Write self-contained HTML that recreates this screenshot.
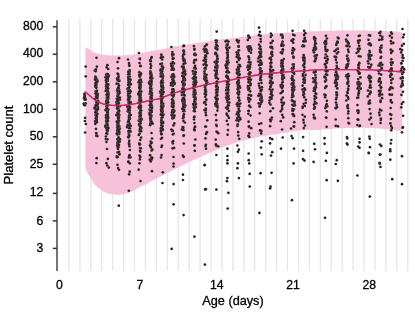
<!DOCTYPE html>
<html><head><meta charset="utf-8"><style>
html,body{margin:0;padding:0;background:#fff;width:415px;height:314px;overflow:hidden}
svg{position:absolute;left:0;top:0;will-change:transform;font-family:"Liberation Sans",sans-serif}
</style></head><body>
<svg width="415" height="314" viewBox="0 0 415 314">
<g stroke="#e6e6e6" stroke-width="1.3"><line x1="68.9" y1="18.8" x2="68.9" y2="271"/><line x1="79.9" y1="18.8" x2="79.9" y2="271"/><line x1="90.8" y1="18.8" x2="90.8" y2="271"/><line x1="101.7" y1="18.8" x2="101.7" y2="271"/><line x1="112.7" y1="18.8" x2="112.7" y2="271"/><line x1="123.6" y1="18.8" x2="123.6" y2="271"/><line x1="134.5" y1="18.8" x2="134.5" y2="271"/><line x1="145.4" y1="18.8" x2="145.4" y2="271"/><line x1="156.4" y1="18.8" x2="156.4" y2="271"/><line x1="167.3" y1="18.8" x2="167.3" y2="271"/><line x1="178.2" y1="18.8" x2="178.2" y2="271"/><line x1="189.2" y1="18.8" x2="189.2" y2="271"/><line x1="200.1" y1="18.8" x2="200.1" y2="271"/><line x1="211" y1="18.8" x2="211" y2="271"/><line x1="221.9" y1="18.8" x2="221.9" y2="271"/><line x1="232.9" y1="18.8" x2="232.9" y2="271"/><line x1="243.8" y1="18.8" x2="243.8" y2="271"/><line x1="254.7" y1="18.8" x2="254.7" y2="271"/><line x1="265.7" y1="18.8" x2="265.7" y2="271"/><line x1="276.6" y1="18.8" x2="276.6" y2="271"/><line x1="287.5" y1="18.8" x2="287.5" y2="271"/><line x1="298.5" y1="18.8" x2="298.5" y2="271"/><line x1="309.4" y1="18.8" x2="309.4" y2="271"/><line x1="320.3" y1="18.8" x2="320.3" y2="271"/><line x1="331.2" y1="18.8" x2="331.2" y2="271"/><line x1="342.2" y1="18.8" x2="342.2" y2="271"/><line x1="353.1" y1="18.8" x2="353.1" y2="271"/><line x1="364" y1="18.8" x2="364" y2="271"/><line x1="375" y1="18.8" x2="375" y2="271"/><line x1="385.9" y1="18.8" x2="385.9" y2="271"/><line x1="396.8" y1="18.8" x2="396.8" y2="271"/><line x1="407.8" y1="18.8" x2="407.8" y2="271"/></g>
<path d="M85.4,46.9 L86.1,47.4 L87,48 L88.1,48.7 L89.3,49.5 L90.5,50.3 L91.6,50.9 L92.6,51.4 L93.5,51.9 L94.4,52.4 L95.3,52.8 L96.3,53.1 L97.4,53.5 L98.6,53.8 L99.8,54.1 L101.1,54.4 L102.5,54.6 L103.8,54.8 L105.1,55 L106.4,55.1 L107.7,55.3 L108.9,55.3 L110.2,55.4 L111.5,55.5 L112.8,55.5 L114.1,55.5 L115.3,55.6 L116.6,55.6 L117.9,55.6 L119.2,55.5 L120.6,55.5 L122.1,55.4 L123.7,55.4 L125.3,55.3 L126.9,55.2 L128.6,55.1 L130.2,54.9 L131.8,54.7 L133.4,54.5 L135,54.2 L136.6,54 L138.2,53.7 L139.8,53.4 L141.4,53.1 L142.9,52.7 L144.5,52.4 L146.1,52 L147.7,51.7 L149.5,51.3 L151.4,51 L153.5,50.7 L155.6,50.3 L157.7,50 L159.9,49.7 L162,49.3 L164,48.9 L165.9,48.5 L167.7,48 L169.7,47.6 L171.8,47.1 L174.3,46.6 L177.1,46.1 L180.2,45.6 L183.5,45.1 L186.9,44.5 L190.3,44 L193.6,43.5 L196.8,43 L199.9,42.5 L203,42 L206.2,41.6 L209.4,41.1 L212.8,40.6 L216.4,40.1 L220.3,39.6 L224.2,39.1 L228.1,38.7 L231.7,38.2 L235,37.8 L237.8,37.4 L240.2,37.1 L242.3,36.7 L244.5,36.4 L246.7,36.1 L249.3,35.8 L252.2,35.5 L255.4,35.2 L258.6,34.9 L262,34.6 L265.3,34.3 L268.6,34 L271.8,33.7 L274.9,33.5 L278,33.3 L281.2,33 L284.4,32.8 L287.8,32.6 L291.3,32.4 L294.9,32.2 L298.6,32 L302.4,31.8 L306.2,31.7 L310,31.5 L313.9,31.3 L317.9,31.2 L321.9,31 L325.9,30.9 L330,30.8 L334,30.7 L338,30.6 L342.1,30.6 L346.1,30.5 L350.1,30.5 L354.2,30.5 L358.2,30.5 L362.3,30.6 L366.4,30.6 L370.5,30.7 L374.6,30.9 L378.5,31 L382.3,31.1 L386.1,31.2 L390,31.4 L393.8,31.5 L397.2,31.6 L400.1,31.7 L402.2,31.8 L402.2,131.2 L400.9,131 L399.2,130.8 L397.1,130.5 L394.9,130.2 L392.6,130 L390.5,129.7 L388.4,129.5 L386.2,129.2 L384,129 L381.9,128.8 L379.8,128.6 L378,128.4 L376.5,128.3 L375.4,128.2 L374.4,128.1 L373.3,128 L371.9,127.9 L370,127.9 L367.4,127.9 L364.3,127.8 L360.8,127.8 L357.3,127.8 L353.8,127.9 L350.6,127.9 L347.6,128 L344.8,128.1 L342,128.2 L339.2,128.3 L336.6,128.4 L334,128.6 L331.6,128.8 L329.4,129 L327.3,129.2 L325.1,129.4 L322.7,129.6 L320,129.8 L316.9,129.9 L313.5,130 L309.9,130.1 L306.3,130.2 L302.7,130.3 L299.3,130.6 L296,131 L292.9,131.5 L289.7,132 L286.6,132.6 L283.6,133.1 L280.6,133.6 L277.7,134 L274.8,134.4 L272,134.7 L269.3,135.1 L266.5,135.4 L263.7,135.9 L260.8,136.5 L257.8,137.1 L254.8,137.8 L252,138.4 L249.3,139.1 L247,139.6 L245.1,140 L243.6,140.4 L242.3,140.7 L241.2,141 L239.9,141.4 L238.4,141.8 L236.7,142.3 L234.9,142.9 L233,143.5 L231.1,144.2 L229.2,144.9 L227.3,145.6 L225.4,146.3 L223.5,147.1 L221.6,147.8 L219.8,148.6 L217.9,149.4 L216,150.2 L214.1,151 L212.2,151.8 L210.2,152.6 L208.3,153.4 L206.6,154.2 L205,154.9 L203.7,155.5 L202.5,156 L201.5,156.5 L200.5,156.9 L199.4,157.4 L198.2,158 L196.8,158.7 L195.2,159.4 L193.6,160.1 L191.9,160.9 L190.3,161.7 L188.6,162.5 L186.9,163.3 L185.3,164.1 L183.6,164.9 L181.9,165.7 L180.2,166.5 L178.4,167.4 L176.6,168.3 L174.8,169.2 L172.9,170.1 L171,171 L169.2,172 L167.3,172.9 L165.4,173.9 L163.4,174.9 L161.3,175.9 L159.4,176.9 L157.6,177.9 L156,178.7 L154.7,179.4 L153.6,180 L152.6,180.6 L151.7,181.1 L150.9,181.6 L150,182.1 L149.1,182.6 L148.3,183 L147.4,183.4 L146.6,183.8 L145.8,184.2 L145,184.6 L144.2,185 L143.4,185.4 L142.6,185.8 L141.7,186.1 L140.9,186.5 L140,187 L139.1,187.5 L138.1,188.1 L137.1,188.6 L136,189.2 L135,189.8 L134,190.3 L133,190.8 L132.1,191.3 L131.1,191.7 L130.1,192.1 L129.2,192.5 L128.2,192.9 L127.2,193.2 L126.3,193.5 L125.3,193.7 L124.3,193.9 L123.4,194.1 L122.4,194.3 L121.5,194.5 L120.6,194.6 L119.7,194.7 L118.8,194.8 L117.7,194.8 L116.6,194.8 L115.3,194.7 L113.8,194.5 L112.2,194.3 L110.7,194.1 L109.2,193.8 L107.8,193.4 L106.6,193 L105.4,192.5 L104.3,191.9 L103.2,191.3 L102.2,190.7 L101.2,190 L100.2,189.3 L99.2,188.6 L98.3,187.8 L97.4,187 L96.5,186.2 L95.7,185.4 L95,184.7 L94.4,183.9 L93.8,183.2 L93.2,182.5 L92.7,181.7 L92.1,180.8 L91.5,179.8 L90.8,178.7 L90.2,177.6 L89.6,176.5 L89,175.4 L88.5,174.5 L88,173.7 L87.6,173 L87.2,172.4 L86.9,171.8 L86.6,171.2 L86.3,170.5 L86.1,169.7 L85.9,168.9 L85.7,168 L85.6,167.2 L85.5,166.5 L85.4,166 Z" fill="#f7c2d9"/>
<path id="med" d="M84.8,91.4 L85.3,91.9 L86,92.5 L86.8,93.2 L87.7,94 L88.7,94.8 L89.6,95.6 L90.5,96.4 L91.4,97.1 L92.3,97.9 L93.3,98.7 L94.3,99.5 L95.4,100.2 L96.6,100.9 L97.8,101.6 L99.1,102.2 L100.5,102.8 L101.8,103.3 L103.1,103.8 L104.4,104.2 L105.7,104.5 L106.9,104.7 L108.2,104.9 L109.5,105 L110.8,105.2 L112.1,105.3 L113.4,105.4 L114.7,105.5 L116,105.6 L117.3,105.6 L118.6,105.6 L119.9,105.6 L121.2,105.5 L122.5,105.4 L123.7,105.3 L125,105.1 L126.3,105 L127.6,104.9 L128.9,104.7 L130.2,104.5 L131.4,104.3 L132.7,104.1 L134,103.9 L135.3,103.7 L136.6,103.4 L137.8,103.1 L139.1,102.9 L140.4,102.6 L141.7,102.3 L142.9,102 L144.2,101.8 L145.4,101.5 L146.6,101.2 L147.9,100.9 L149.4,100.6 L151,100.3 L152.6,100 L154.3,99.7 L156.1,99.3 L158,98.9 L160,98.3 L162.1,97.6 L164.3,96.8 L166.6,95.8 L169,94.9 L171.6,93.9 L174.3,93 L177.2,92.1 L180.4,91.2 L183.6,90.3 L187,89.4 L190.3,88.5 L193.6,87.7 L196.8,86.9 L199.9,86.2 L203,85.4 L206.2,84.7 L209.4,84 L212.8,83.3 L216.4,82.6 L220.1,81.9 L223.9,81.1 L227.7,80.4 L231.4,79.8 L235,79.1 L238.3,78.5 L241.4,77.8 L244.4,77.2 L247.5,76.6 L250.7,76.1 L254.1,75.5 L257.8,75 L261.8,74.4 L265.8,73.9 L270,73.5 L274.1,73 L278.2,72.6 L282.3,72.2 L286.5,71.9 L290.6,71.6 L294.7,71.4 L298.7,71.1 L302.3,70.9 L305.6,70.7 L308.5,70.5 L311.3,70.2 L314,70.1 L316.9,69.9 L320,69.8 L323.4,69.7 L326.9,69.7 L330.6,69.7 L334.3,69.7 L338,69.7 L341.7,69.7 L345.3,69.7 L348.9,69.7 L352.6,69.6 L356.2,69.6 L359.8,69.6 L363.4,69.7 L367.1,69.8 L370.8,69.9 L374.5,70.1 L378.1,70.2 L381.6,70.4 L385,70.6 L388.3,70.8 L391.8,71.1 L395.1,71.3 L398,71.5 L400.6,71.8 L402.4,71.9" fill="none" stroke="#d6246f" stroke-width="1.3"/>
<g fill="#221a15" stroke="#fff" stroke-opacity="0.2" stroke-width="0.5"><circle cx="94.7" cy="70.7" r="1.35"/><circle cx="95.6" cy="71.1" r="1.35"/><circle cx="95.8" cy="71.1" r="1.35"/><circle cx="96" cy="112.5" r="1.35"/><circle cx="96.8" cy="80.2" r="1.35"/><circle cx="96.6" cy="113.2" r="1.35"/><circle cx="96.2" cy="121.2" r="1.35"/><circle cx="96" cy="120.4" r="1.35"/><circle cx="95.7" cy="83.2" r="1.35"/><circle cx="95.4" cy="76.7" r="1.35"/><circle cx="96" cy="84.7" r="1.35"/><circle cx="96.2" cy="87.1" r="1.35"/><circle cx="97.1" cy="96.3" r="1.35"/><circle cx="96.4" cy="114.8" r="1.35"/><circle cx="95.2" cy="99" r="1.35"/><circle cx="96.1" cy="106.5" r="1.35"/><circle cx="95.7" cy="121.9" r="1.35"/><circle cx="96.4" cy="121.8" r="1.35"/><circle cx="96.9" cy="90.5" r="1.35"/><circle cx="95.3" cy="86.6" r="1.35"/><circle cx="96.2" cy="111.2" r="1.35"/><circle cx="96.5" cy="94.4" r="1.35"/><circle cx="96.7" cy="120.1" r="1.35"/><circle cx="95.6" cy="115" r="1.35"/><circle cx="96.8" cy="117.9" r="1.35"/><circle cx="96.3" cy="97.6" r="1.35"/><circle cx="97" cy="79.4" r="1.35"/><circle cx="96.2" cy="105" r="1.35"/><circle cx="96.4" cy="80" r="1.35"/><circle cx="95.7" cy="91.3" r="1.35"/><circle cx="97.5" cy="81.4" r="1.35"/><circle cx="96" cy="87.3" r="1.35"/><circle cx="96.5" cy="112.7" r="1.35"/><circle cx="96.4" cy="84.2" r="1.35"/><circle cx="95.5" cy="84.8" r="1.35"/><circle cx="96" cy="109.7" r="1.35"/><circle cx="97" cy="81.4" r="1.35"/><circle cx="97" cy="95.4" r="1.35"/><circle cx="96.4" cy="120.7" r="1.35"/><circle cx="96.8" cy="113" r="1.35"/><circle cx="95.7" cy="85.7" r="1.35"/><circle cx="97.7" cy="94.1" r="1.35"/><circle cx="96.9" cy="80.6" r="1.35"/><circle cx="95.4" cy="121.5" r="1.35"/><circle cx="96.4" cy="111.5" r="1.35"/><circle cx="96.8" cy="91.1" r="1.35"/><circle cx="96.2" cy="80.1" r="1.35"/><circle cx="96.5" cy="102.8" r="1.35"/><circle cx="96.3" cy="93.1" r="1.35"/><circle cx="97.3" cy="96.8" r="1.35"/><circle cx="97.1" cy="102.4" r="1.35"/><circle cx="96" cy="115.9" r="1.35"/><circle cx="96.4" cy="117.8" r="1.35"/><circle cx="96.7" cy="113.6" r="1.35"/><circle cx="96.3" cy="110" r="1.35"/><circle cx="96.7" cy="119.3" r="1.35"/><circle cx="96.9" cy="116.6" r="1.35"/><circle cx="98" cy="103.8" r="1.35"/><circle cx="95.9" cy="77.8" r="1.35"/><circle cx="96.4" cy="120.3" r="1.35"/><circle cx="96.3" cy="87.8" r="1.35"/><circle cx="97.4" cy="113.9" r="1.35"/><circle cx="95.7" cy="84.1" r="1.35"/><circle cx="95.9" cy="109.1" r="1.35"/><circle cx="96.7" cy="101.7" r="1.35"/><circle cx="96.5" cy="115.2" r="1.35"/><circle cx="95.8" cy="118.2" r="1.35"/><circle cx="95.9" cy="85.4" r="1.35"/><circle cx="96.8" cy="96.5" r="1.35"/><circle cx="96.3" cy="78.8" r="1.35"/><circle cx="96.6" cy="102.3" r="1.35"/><circle cx="96.9" cy="82.1" r="1.35"/><circle cx="95.2" cy="121.1" r="1.35"/><circle cx="97.5" cy="106.2" r="1.35"/><circle cx="95.9" cy="82.5" r="1.35"/><circle cx="95.3" cy="77.6" r="1.35"/><circle cx="97.9" cy="108.2" r="1.35"/><circle cx="96.4" cy="120.3" r="1.35"/><circle cx="97.3" cy="98.2" r="1.35"/><circle cx="96.4" cy="109.6" r="1.35"/><circle cx="95" cy="79.5" r="1.35"/><circle cx="98.1" cy="101.1" r="1.35"/><circle cx="96.1" cy="109.9" r="1.35"/><circle cx="94.7" cy="108.4" r="1.35"/><circle cx="96.7" cy="92.2" r="1.35"/><circle cx="94.7" cy="107.5" r="1.35"/><circle cx="97.5" cy="95.2" r="1.35"/><circle cx="95.4" cy="112.4" r="1.35"/><circle cx="96.9" cy="104.7" r="1.35"/><circle cx="95.5" cy="93.6" r="1.35"/><circle cx="95.4" cy="79.7" r="1.35"/><circle cx="95.7" cy="105.4" r="1.35"/><circle cx="97.8" cy="109.5" r="1.35"/><circle cx="96.2" cy="93.9" r="1.35"/><circle cx="96.2" cy="96.3" r="1.35"/><circle cx="95.3" cy="123.9" r="1.35"/><circle cx="96.3" cy="135.8" r="1.35"/><circle cx="96.1" cy="133.1" r="1.35"/><circle cx="96.4" cy="133.4" r="1.35"/><circle cx="97.4" cy="136.1" r="1.35"/><circle cx="96.8" cy="122.3" r="1.35"/><circle cx="96" cy="128.9" r="1.35"/><circle cx="96.4" cy="163.1" r="1.35"/><circle cx="96.7" cy="158.2" r="1.35"/><circle cx="106.7" cy="67.4" r="1.35"/><circle cx="108.2" cy="69" r="1.35"/><circle cx="108.5" cy="94.9" r="1.35"/><circle cx="106.4" cy="106.2" r="1.35"/><circle cx="107" cy="101.3" r="1.35"/><circle cx="107.6" cy="120.7" r="1.35"/><circle cx="107.9" cy="127.2" r="1.35"/><circle cx="106.2" cy="88.8" r="1.35"/><circle cx="107.6" cy="88.7" r="1.35"/><circle cx="107.9" cy="85.2" r="1.35"/><circle cx="106.3" cy="101.2" r="1.35"/><circle cx="107.7" cy="91" r="1.35"/><circle cx="108.3" cy="98.8" r="1.35"/><circle cx="105.4" cy="77.3" r="1.35"/><circle cx="108.7" cy="75.4" r="1.35"/><circle cx="107.5" cy="113.4" r="1.35"/><circle cx="106.6" cy="118.1" r="1.35"/><circle cx="106.9" cy="74.1" r="1.35"/><circle cx="107.7" cy="74.4" r="1.35"/><circle cx="107.8" cy="120.3" r="1.35"/><circle cx="107.2" cy="75.7" r="1.35"/><circle cx="107.6" cy="108.9" r="1.35"/><circle cx="106.2" cy="110.3" r="1.35"/><circle cx="107.5" cy="119" r="1.35"/><circle cx="108.3" cy="84.4" r="1.35"/><circle cx="106.9" cy="100.1" r="1.35"/><circle cx="107.2" cy="99.9" r="1.35"/><circle cx="107.3" cy="113.7" r="1.35"/><circle cx="107.4" cy="92.7" r="1.35"/><circle cx="107.7" cy="112.7" r="1.35"/><circle cx="106.2" cy="116.1" r="1.35"/><circle cx="107.1" cy="95.4" r="1.35"/><circle cx="107.6" cy="78" r="1.35"/><circle cx="105.6" cy="126.2" r="1.35"/><circle cx="107.1" cy="98.9" r="1.35"/><circle cx="106.8" cy="108.7" r="1.35"/><circle cx="107.8" cy="105.4" r="1.35"/><circle cx="106.8" cy="123.1" r="1.35"/><circle cx="107.7" cy="99.4" r="1.35"/><circle cx="105.5" cy="110.1" r="1.35"/><circle cx="107.5" cy="119.6" r="1.35"/><circle cx="108.3" cy="109.6" r="1.35"/><circle cx="107.1" cy="124.3" r="1.35"/><circle cx="106.7" cy="128.9" r="1.35"/><circle cx="108.1" cy="118.1" r="1.35"/><circle cx="107.1" cy="91.3" r="1.35"/><circle cx="108.4" cy="92.9" r="1.35"/><circle cx="106.4" cy="77.7" r="1.35"/><circle cx="106.3" cy="116.8" r="1.35"/><circle cx="107.5" cy="100.8" r="1.35"/><circle cx="108.5" cy="76.7" r="1.35"/><circle cx="107.4" cy="118.6" r="1.35"/><circle cx="107.5" cy="117.9" r="1.35"/><circle cx="107.8" cy="81" r="1.35"/><circle cx="107.7" cy="114.2" r="1.35"/><circle cx="107.9" cy="120.9" r="1.35"/><circle cx="106.5" cy="101.1" r="1.35"/><circle cx="105.5" cy="127.1" r="1.35"/><circle cx="107.6" cy="103" r="1.35"/><circle cx="107.5" cy="89.5" r="1.35"/><circle cx="107" cy="102.8" r="1.35"/><circle cx="106.1" cy="121.1" r="1.35"/><circle cx="106.6" cy="94.7" r="1.35"/><circle cx="106.9" cy="121.2" r="1.35"/><circle cx="107.6" cy="121.5" r="1.35"/><circle cx="106.9" cy="128.2" r="1.35"/><circle cx="106.2" cy="84.5" r="1.35"/><circle cx="107" cy="103.5" r="1.35"/><circle cx="106.2" cy="74.6" r="1.35"/><circle cx="107.2" cy="128.3" r="1.35"/><circle cx="106.4" cy="118.7" r="1.35"/><circle cx="107.1" cy="105.1" r="1.35"/><circle cx="106" cy="76.8" r="1.35"/><circle cx="107.2" cy="103.7" r="1.35"/><circle cx="105.6" cy="125.6" r="1.35"/><circle cx="108.2" cy="88.3" r="1.35"/><circle cx="106.8" cy="97.7" r="1.35"/><circle cx="107.3" cy="119.5" r="1.35"/><circle cx="107.9" cy="91.1" r="1.35"/><circle cx="106.7" cy="83.9" r="1.35"/><circle cx="105.9" cy="80.4" r="1.35"/><circle cx="106" cy="117.4" r="1.35"/><circle cx="107.7" cy="86" r="1.35"/><circle cx="107.3" cy="112.2" r="1.35"/><circle cx="106.9" cy="108.3" r="1.35"/><circle cx="107.8" cy="79" r="1.35"/><circle cx="107.1" cy="102.1" r="1.35"/><circle cx="106.8" cy="87.3" r="1.35"/><circle cx="107.5" cy="97.9" r="1.35"/><circle cx="108.1" cy="94.4" r="1.35"/><circle cx="106.4" cy="82.1" r="1.35"/><circle cx="107.7" cy="84.6" r="1.35"/><circle cx="106.5" cy="103.2" r="1.35"/><circle cx="106.4" cy="121.5" r="1.35"/><circle cx="106.1" cy="86.3" r="1.35"/><circle cx="106.2" cy="115.2" r="1.35"/><circle cx="107.8" cy="91" r="1.35"/><circle cx="105.7" cy="91" r="1.35"/><circle cx="107.7" cy="129.9" r="1.35"/><circle cx="106.9" cy="123.6" r="1.35"/><circle cx="107.6" cy="114.4" r="1.35"/><circle cx="107.6" cy="87.8" r="1.35"/><circle cx="108.3" cy="97" r="1.35"/><circle cx="108" cy="118" r="1.35"/><circle cx="107.7" cy="112.1" r="1.35"/><circle cx="107.7" cy="74" r="1.35"/><circle cx="107.5" cy="124.9" r="1.35"/><circle cx="108.3" cy="128.2" r="1.35"/><circle cx="107.9" cy="116.2" r="1.35"/><circle cx="107.8" cy="101.7" r="1.35"/><circle cx="107" cy="77" r="1.35"/><circle cx="106.7" cy="79.1" r="1.35"/><circle cx="108.1" cy="102.3" r="1.35"/><circle cx="107.4" cy="105.4" r="1.35"/><circle cx="107.5" cy="84.6" r="1.35"/><circle cx="107.6" cy="120.9" r="1.35"/><circle cx="107.5" cy="131.2" r="1.35"/><circle cx="107" cy="149" r="1.35"/><circle cx="105.9" cy="136.5" r="1.35"/><circle cx="107.5" cy="139.3" r="1.35"/><circle cx="106.4" cy="142" r="1.35"/><circle cx="107.1" cy="130.3" r="1.35"/><circle cx="106.7" cy="133.6" r="1.35"/><circle cx="105.8" cy="139.1" r="1.35"/><circle cx="107.1" cy="133.9" r="1.35"/><circle cx="106.4" cy="133.3" r="1.35"/><circle cx="108.8" cy="167.6" r="1.35"/><circle cx="107.3" cy="165.5" r="1.35"/><circle cx="107.9" cy="158.9" r="1.35"/><circle cx="106.4" cy="163.2" r="1.35"/><circle cx="118.3" cy="74.6" r="1.35"/><circle cx="117.6" cy="73.7" r="1.35"/><circle cx="118.4" cy="140.4" r="1.35"/><circle cx="117.4" cy="139.2" r="1.35"/><circle cx="117.7" cy="130.9" r="1.35"/><circle cx="116.9" cy="104.6" r="1.35"/><circle cx="118.1" cy="99.9" r="1.35"/><circle cx="117.8" cy="109.2" r="1.35"/><circle cx="118.8" cy="121.6" r="1.35"/><circle cx="118.2" cy="120.6" r="1.35"/><circle cx="118.3" cy="123.6" r="1.35"/><circle cx="119.9" cy="99.7" r="1.35"/><circle cx="117.6" cy="113.9" r="1.35"/><circle cx="117.3" cy="103.4" r="1.35"/><circle cx="119.2" cy="126.2" r="1.35"/><circle cx="118.1" cy="130.6" r="1.35"/><circle cx="118.3" cy="119.9" r="1.35"/><circle cx="118.1" cy="128.9" r="1.35"/><circle cx="118.1" cy="78.7" r="1.35"/><circle cx="118.9" cy="89.3" r="1.35"/><circle cx="117.9" cy="93.3" r="1.35"/><circle cx="118.4" cy="141.1" r="1.35"/><circle cx="117.3" cy="145.6" r="1.35"/><circle cx="117.8" cy="116.5" r="1.35"/><circle cx="119.2" cy="134.1" r="1.35"/><circle cx="118.1" cy="80.6" r="1.35"/><circle cx="117.1" cy="78.3" r="1.35"/><circle cx="117.4" cy="142.9" r="1.35"/><circle cx="118.6" cy="87.3" r="1.35"/><circle cx="118.8" cy="111.2" r="1.35"/><circle cx="117.9" cy="144" r="1.35"/><circle cx="117.9" cy="105.7" r="1.35"/><circle cx="117.1" cy="101.7" r="1.35"/><circle cx="117.9" cy="95.9" r="1.35"/><circle cx="117.6" cy="95.7" r="1.35"/><circle cx="117.3" cy="127.3" r="1.35"/><circle cx="118.1" cy="92.9" r="1.35"/><circle cx="118.2" cy="78.1" r="1.35"/><circle cx="118.8" cy="103.5" r="1.35"/><circle cx="119.2" cy="140.5" r="1.35"/><circle cx="118.1" cy="147.2" r="1.35"/><circle cx="117.9" cy="143.9" r="1.35"/><circle cx="119.6" cy="106.4" r="1.35"/><circle cx="118.8" cy="109.9" r="1.35"/><circle cx="118.7" cy="113.2" r="1.35"/><circle cx="118" cy="143.4" r="1.35"/><circle cx="118" cy="146.5" r="1.35"/><circle cx="117.3" cy="134.6" r="1.35"/><circle cx="117.8" cy="120.6" r="1.35"/><circle cx="117.9" cy="108.3" r="1.35"/><circle cx="118.2" cy="113.6" r="1.35"/><circle cx="118.3" cy="84.1" r="1.35"/><circle cx="117.1" cy="108.3" r="1.35"/><circle cx="118.5" cy="94.1" r="1.35"/><circle cx="117.4" cy="131.8" r="1.35"/><circle cx="117.7" cy="113.7" r="1.35"/><circle cx="119.9" cy="128.6" r="1.35"/><circle cx="118.1" cy="92.4" r="1.35"/><circle cx="119.3" cy="132.3" r="1.35"/><circle cx="119.2" cy="120.6" r="1.35"/><circle cx="117.7" cy="125" r="1.35"/><circle cx="118.6" cy="116.2" r="1.35"/><circle cx="117.2" cy="130" r="1.35"/><circle cx="117.5" cy="88.9" r="1.35"/><circle cx="118.1" cy="141.8" r="1.35"/><circle cx="119.9" cy="139.2" r="1.35"/><circle cx="118.4" cy="94.8" r="1.35"/><circle cx="118.2" cy="106" r="1.35"/><circle cx="117.9" cy="114.5" r="1.35"/><circle cx="117.9" cy="80.3" r="1.35"/><circle cx="119.1" cy="115.2" r="1.35"/><circle cx="118.7" cy="121.1" r="1.35"/><circle cx="117.5" cy="90.4" r="1.35"/><circle cx="118.7" cy="100.1" r="1.35"/><circle cx="118.1" cy="80.4" r="1.35"/><circle cx="116.7" cy="83.7" r="1.35"/><circle cx="118.5" cy="131.1" r="1.35"/><circle cx="117.1" cy="90.6" r="1.35"/><circle cx="117.6" cy="134.1" r="1.35"/><circle cx="118.4" cy="101.9" r="1.35"/><circle cx="116.8" cy="98.8" r="1.35"/><circle cx="116.3" cy="115" r="1.35"/><circle cx="118.1" cy="106.2" r="1.35"/><circle cx="116.4" cy="102" r="1.35"/><circle cx="119.4" cy="80.7" r="1.35"/><circle cx="119" cy="81.1" r="1.35"/><circle cx="117.3" cy="125" r="1.35"/><circle cx="117.8" cy="96.8" r="1.35"/><circle cx="118.2" cy="90.6" r="1.35"/><circle cx="117.8" cy="123.3" r="1.35"/><circle cx="118.7" cy="127.9" r="1.35"/><circle cx="118.4" cy="125.7" r="1.35"/><circle cx="118" cy="101.1" r="1.35"/><circle cx="118.5" cy="128" r="1.35"/><circle cx="117.9" cy="126.8" r="1.35"/><circle cx="118.4" cy="116.6" r="1.35"/><circle cx="119.7" cy="141.7" r="1.35"/><circle cx="117.2" cy="107" r="1.35"/><circle cx="118.3" cy="98.2" r="1.35"/><circle cx="117.5" cy="104.2" r="1.35"/><circle cx="119.6" cy="93.1" r="1.35"/><circle cx="117.5" cy="101.4" r="1.35"/><circle cx="117.6" cy="103.9" r="1.35"/><circle cx="118.6" cy="103.3" r="1.35"/><circle cx="118.4" cy="133.2" r="1.35"/><circle cx="119" cy="114.5" r="1.35"/><circle cx="118.6" cy="87.9" r="1.35"/><circle cx="117.3" cy="130.4" r="1.35"/><circle cx="118.6" cy="76.6" r="1.35"/><circle cx="117.7" cy="112.6" r="1.35"/><circle cx="117.2" cy="145.5" r="1.35"/><circle cx="117.8" cy="122.5" r="1.35"/><circle cx="118.2" cy="114.9" r="1.35"/><circle cx="117.9" cy="132.5" r="1.35"/><circle cx="118.4" cy="128.8" r="1.35"/><circle cx="118.3" cy="140.6" r="1.35"/><circle cx="119" cy="85.5" r="1.35"/><circle cx="118.7" cy="129.4" r="1.35"/><circle cx="117.8" cy="91.1" r="1.35"/><circle cx="117.7" cy="130.9" r="1.35"/><circle cx="116.9" cy="103.8" r="1.35"/><circle cx="117.9" cy="99.7" r="1.35"/><circle cx="119.2" cy="111" r="1.35"/><circle cx="117.9" cy="114.2" r="1.35"/><circle cx="117.9" cy="141.8" r="1.35"/><circle cx="117" cy="105" r="1.35"/><circle cx="118.6" cy="137.3" r="1.35"/><circle cx="117.1" cy="133.8" r="1.35"/><circle cx="118.9" cy="144.9" r="1.35"/><circle cx="116.8" cy="121.7" r="1.35"/><circle cx="116.9" cy="133.6" r="1.35"/><circle cx="117.9" cy="105.8" r="1.35"/><circle cx="117.7" cy="129.1" r="1.35"/><circle cx="118.3" cy="147.3" r="1.35"/><circle cx="117.8" cy="89.9" r="1.35"/><circle cx="118.4" cy="106" r="1.35"/><circle cx="117.6" cy="79.3" r="1.35"/><circle cx="119.9" cy="97.5" r="1.35"/><circle cx="118.9" cy="131.6" r="1.35"/><circle cx="118.8" cy="88.1" r="1.35"/><circle cx="118.9" cy="117.6" r="1.35"/><circle cx="118.4" cy="141.4" r="1.35"/><circle cx="118.5" cy="88.5" r="1.35"/><circle cx="118.2" cy="90.9" r="1.35"/><circle cx="118.2" cy="118.4" r="1.35"/><circle cx="119.3" cy="91.3" r="1.35"/><circle cx="118.4" cy="87.6" r="1.35"/><circle cx="118.7" cy="130.3" r="1.35"/><circle cx="116.8" cy="156.2" r="1.35"/><circle cx="117.7" cy="152.4" r="1.35"/><circle cx="119.4" cy="153.8" r="1.35"/><circle cx="117" cy="157.3" r="1.35"/><circle cx="118.9" cy="151.8" r="1.35"/><circle cx="117.9" cy="148.8" r="1.35"/><circle cx="119.4" cy="154.5" r="1.35"/><circle cx="117.7" cy="157" r="1.35"/><circle cx="117.5" cy="164.8" r="1.35"/><circle cx="118.1" cy="168.1" r="1.35"/><circle cx="119" cy="169.8" r="1.35"/><circle cx="129.1" cy="65.1" r="1.35"/><circle cx="129.4" cy="65.8" r="1.35"/><circle cx="129.6" cy="70.1" r="1.35"/><circle cx="127.5" cy="88.9" r="1.35"/><circle cx="127.3" cy="106.8" r="1.35"/><circle cx="129.8" cy="71.1" r="1.35"/><circle cx="130.1" cy="126" r="1.35"/><circle cx="129.8" cy="76.5" r="1.35"/><circle cx="127.9" cy="89.1" r="1.35"/><circle cx="129" cy="103.2" r="1.35"/><circle cx="128.7" cy="102.4" r="1.35"/><circle cx="130" cy="128.4" r="1.35"/><circle cx="128.8" cy="91.3" r="1.35"/><circle cx="129.2" cy="132.4" r="1.35"/><circle cx="128.3" cy="77.1" r="1.35"/><circle cx="129.3" cy="107.4" r="1.35"/><circle cx="128.6" cy="106.2" r="1.35"/><circle cx="129.8" cy="91.9" r="1.35"/><circle cx="130.2" cy="91.8" r="1.35"/><circle cx="129.6" cy="102.3" r="1.35"/><circle cx="129.3" cy="118.9" r="1.35"/><circle cx="128.3" cy="78.1" r="1.35"/><circle cx="129.9" cy="97.4" r="1.35"/><circle cx="127.2" cy="126.6" r="1.35"/><circle cx="129.5" cy="114.8" r="1.35"/><circle cx="129.8" cy="118.6" r="1.35"/><circle cx="129.1" cy="86.9" r="1.35"/><circle cx="128.3" cy="71.7" r="1.35"/><circle cx="128.7" cy="137.4" r="1.35"/><circle cx="129.2" cy="112.3" r="1.35"/><circle cx="128.6" cy="90.5" r="1.35"/><circle cx="128.4" cy="91" r="1.35"/><circle cx="129.7" cy="93.6" r="1.35"/><circle cx="128.2" cy="88.2" r="1.35"/><circle cx="129.7" cy="84.4" r="1.35"/><circle cx="129" cy="134.3" r="1.35"/><circle cx="128.4" cy="108.7" r="1.35"/><circle cx="128.9" cy="126.4" r="1.35"/><circle cx="128.4" cy="77.2" r="1.35"/><circle cx="129.3" cy="116.4" r="1.35"/><circle cx="129.3" cy="118.5" r="1.35"/><circle cx="129.4" cy="127.1" r="1.35"/><circle cx="129.7" cy="110.7" r="1.35"/><circle cx="129.5" cy="81.5" r="1.35"/><circle cx="129.3" cy="79.3" r="1.35"/><circle cx="128.8" cy="132.7" r="1.35"/><circle cx="129.2" cy="99.6" r="1.35"/><circle cx="128" cy="122.4" r="1.35"/><circle cx="129" cy="126" r="1.35"/><circle cx="128.5" cy="98.6" r="1.35"/><circle cx="129.5" cy="72" r="1.35"/><circle cx="128.1" cy="136.8" r="1.35"/><circle cx="129.7" cy="123.9" r="1.35"/><circle cx="128.5" cy="72.2" r="1.35"/><circle cx="128.2" cy="93.2" r="1.35"/><circle cx="128.4" cy="78.1" r="1.35"/><circle cx="130" cy="96.3" r="1.35"/><circle cx="127.7" cy="126.3" r="1.35"/><circle cx="129" cy="112" r="1.35"/><circle cx="129.7" cy="131.5" r="1.35"/><circle cx="130.1" cy="107.7" r="1.35"/><circle cx="128.5" cy="80.5" r="1.35"/><circle cx="129.8" cy="118.8" r="1.35"/><circle cx="129.9" cy="118.9" r="1.35"/><circle cx="129" cy="127" r="1.35"/><circle cx="129.6" cy="113" r="1.35"/><circle cx="130.8" cy="84.3" r="1.35"/><circle cx="129.5" cy="109.6" r="1.35"/><circle cx="129.3" cy="117.7" r="1.35"/><circle cx="128.2" cy="95.2" r="1.35"/><circle cx="130.6" cy="102" r="1.35"/><circle cx="130.5" cy="80.1" r="1.35"/><circle cx="130.5" cy="131.6" r="1.35"/><circle cx="128.1" cy="108.5" r="1.35"/><circle cx="128.8" cy="88.7" r="1.35"/><circle cx="130.8" cy="125.8" r="1.35"/><circle cx="127.8" cy="111.3" r="1.35"/><circle cx="130" cy="90.3" r="1.35"/><circle cx="130" cy="131.1" r="1.35"/><circle cx="129.1" cy="126.7" r="1.35"/><circle cx="130" cy="83.4" r="1.35"/><circle cx="128.8" cy="73.1" r="1.35"/><circle cx="129" cy="83.1" r="1.35"/><circle cx="130.8" cy="115.1" r="1.35"/><circle cx="128.9" cy="91.6" r="1.35"/><circle cx="128.5" cy="96.6" r="1.35"/><circle cx="128" cy="110.7" r="1.35"/><circle cx="129.1" cy="84.4" r="1.35"/><circle cx="128.9" cy="102.4" r="1.35"/><circle cx="129.5" cy="109.2" r="1.35"/><circle cx="129.6" cy="82.6" r="1.35"/><circle cx="128.5" cy="109.1" r="1.35"/><circle cx="129" cy="93.3" r="1.35"/><circle cx="128.9" cy="116" r="1.35"/><circle cx="128.9" cy="80.7" r="1.35"/><circle cx="130" cy="102.5" r="1.35"/><circle cx="128.8" cy="98.6" r="1.35"/><circle cx="128.2" cy="121.8" r="1.35"/><circle cx="128.2" cy="121.4" r="1.35"/><circle cx="127.2" cy="127.2" r="1.35"/><circle cx="129.3" cy="128.3" r="1.35"/><circle cx="128.4" cy="108.9" r="1.35"/><circle cx="129.5" cy="131.7" r="1.35"/><circle cx="128.1" cy="100" r="1.35"/><circle cx="128.9" cy="131.6" r="1.35"/><circle cx="128.9" cy="119.6" r="1.35"/><circle cx="129.3" cy="131.3" r="1.35"/><circle cx="128.9" cy="121.4" r="1.35"/><circle cx="128" cy="91.4" r="1.35"/><circle cx="128.8" cy="79.3" r="1.35"/><circle cx="128.9" cy="100.9" r="1.35"/><circle cx="128.3" cy="74.5" r="1.35"/><circle cx="129" cy="117.6" r="1.35"/><circle cx="128.5" cy="91.5" r="1.35"/><circle cx="129" cy="97.5" r="1.35"/><circle cx="129.1" cy="132.1" r="1.35"/><circle cx="129.3" cy="135.8" r="1.35"/><circle cx="128.3" cy="99.2" r="1.35"/><circle cx="127.7" cy="125" r="1.35"/><circle cx="129.3" cy="109" r="1.35"/><circle cx="130.3" cy="131.5" r="1.35"/><circle cx="130.1" cy="79.3" r="1.35"/><circle cx="129.8" cy="107" r="1.35"/><circle cx="129.1" cy="87.3" r="1.35"/><circle cx="129" cy="91.1" r="1.35"/><circle cx="128.9" cy="131" r="1.35"/><circle cx="129.3" cy="125.6" r="1.35"/><circle cx="128.5" cy="110.2" r="1.35"/><circle cx="129.5" cy="74.1" r="1.35"/><circle cx="130.6" cy="91.6" r="1.35"/><circle cx="129.4" cy="104.4" r="1.35"/><circle cx="130.8" cy="102.7" r="1.35"/><circle cx="128.2" cy="84.8" r="1.35"/><circle cx="128.6" cy="131.1" r="1.35"/><circle cx="130.7" cy="84.1" r="1.35"/><circle cx="129.4" cy="102.7" r="1.35"/><circle cx="128.4" cy="82.5" r="1.35"/><circle cx="129.5" cy="155.1" r="1.35"/><circle cx="129" cy="143.2" r="1.35"/><circle cx="129.2" cy="140.9" r="1.35"/><circle cx="128.9" cy="157.6" r="1.35"/><circle cx="128.4" cy="161.5" r="1.35"/><circle cx="130.5" cy="157.3" r="1.35"/><circle cx="129.8" cy="163.3" r="1.35"/><circle cx="129.9" cy="150" r="1.35"/><circle cx="129.5" cy="146.3" r="1.35"/><circle cx="129.3" cy="157.2" r="1.35"/><circle cx="129.2" cy="144.4" r="1.35"/><circle cx="129.5" cy="155.9" r="1.35"/><circle cx="129.2" cy="155.9" r="1.35"/><circle cx="128.3" cy="161.9" r="1.35"/><circle cx="129.1" cy="174.3" r="1.35"/><circle cx="129.7" cy="171.7" r="1.35"/><circle cx="128.8" cy="190.8" r="1.35"/><circle cx="139.7" cy="58.8" r="1.35"/><circle cx="140.9" cy="66" r="1.35"/><circle cx="140.3" cy="65.8" r="1.35"/><circle cx="140.1" cy="66" r="1.35"/><circle cx="139.7" cy="86.5" r="1.35"/><circle cx="139.8" cy="82.7" r="1.35"/><circle cx="140.9" cy="127.5" r="1.35"/><circle cx="140.2" cy="100.1" r="1.35"/><circle cx="140" cy="118.3" r="1.35"/><circle cx="138.7" cy="102.5" r="1.35"/><circle cx="141.1" cy="82.3" r="1.35"/><circle cx="139" cy="93.7" r="1.35"/><circle cx="139.6" cy="112.5" r="1.35"/><circle cx="140.2" cy="102.9" r="1.35"/><circle cx="139.1" cy="124.3" r="1.35"/><circle cx="139.6" cy="130.9" r="1.35"/><circle cx="139.1" cy="82" r="1.35"/><circle cx="140.1" cy="109.3" r="1.35"/><circle cx="139.5" cy="85.8" r="1.35"/><circle cx="138.8" cy="120.6" r="1.35"/><circle cx="140.4" cy="120.8" r="1.35"/><circle cx="140.1" cy="84.9" r="1.35"/><circle cx="140.8" cy="107.5" r="1.35"/><circle cx="139.8" cy="108.6" r="1.35"/><circle cx="140" cy="116" r="1.35"/><circle cx="138.6" cy="82.3" r="1.35"/><circle cx="139.3" cy="80.6" r="1.35"/><circle cx="140.8" cy="98.4" r="1.35"/><circle cx="140.1" cy="98.8" r="1.35"/><circle cx="139.9" cy="75.6" r="1.35"/><circle cx="141.3" cy="128.2" r="1.35"/><circle cx="139.1" cy="120.9" r="1.35"/><circle cx="139.6" cy="86" r="1.35"/><circle cx="140.4" cy="73.7" r="1.35"/><circle cx="140.5" cy="90.8" r="1.35"/><circle cx="139.3" cy="87.7" r="1.35"/><circle cx="139.3" cy="108.1" r="1.35"/><circle cx="141.2" cy="81.8" r="1.35"/><circle cx="140.7" cy="87.1" r="1.35"/><circle cx="140.6" cy="123.3" r="1.35"/><circle cx="140.9" cy="120.6" r="1.35"/><circle cx="140.7" cy="94" r="1.35"/><circle cx="140.3" cy="84.6" r="1.35"/><circle cx="140.2" cy="101.8" r="1.35"/><circle cx="139.9" cy="119" r="1.35"/><circle cx="140.4" cy="99.7" r="1.35"/><circle cx="139.9" cy="117.9" r="1.35"/><circle cx="140.5" cy="127.1" r="1.35"/><circle cx="140.1" cy="79.9" r="1.35"/><circle cx="139.5" cy="97.7" r="1.35"/><circle cx="140.4" cy="75.8" r="1.35"/><circle cx="141.8" cy="119.1" r="1.35"/><circle cx="140.5" cy="117.2" r="1.35"/><circle cx="140" cy="105.8" r="1.35"/><circle cx="140.5" cy="86.2" r="1.35"/><circle cx="138.3" cy="93.9" r="1.35"/><circle cx="140.4" cy="92.2" r="1.35"/><circle cx="141" cy="73.5" r="1.35"/><circle cx="139.9" cy="96.4" r="1.35"/><circle cx="139.8" cy="92.6" r="1.35"/><circle cx="139.8" cy="114.8" r="1.35"/><circle cx="140.6" cy="126.8" r="1.35"/><circle cx="139.2" cy="100.1" r="1.35"/><circle cx="138.8" cy="95" r="1.35"/><circle cx="140.9" cy="120.2" r="1.35"/><circle cx="140.1" cy="82.6" r="1.35"/><circle cx="140.7" cy="105.6" r="1.35"/><circle cx="140.2" cy="84.5" r="1.35"/><circle cx="140.4" cy="100.5" r="1.35"/><circle cx="139.7" cy="133.6" r="1.35"/><circle cx="140.7" cy="113.8" r="1.35"/><circle cx="140.3" cy="95.1" r="1.35"/><circle cx="139.6" cy="75.6" r="1.35"/><circle cx="139.7" cy="88.3" r="1.35"/><circle cx="139.3" cy="72.2" r="1.35"/><circle cx="140.2" cy="95.8" r="1.35"/><circle cx="140.5" cy="129.2" r="1.35"/><circle cx="139.8" cy="93.7" r="1.35"/><circle cx="139.4" cy="80.7" r="1.35"/><circle cx="140.6" cy="119.2" r="1.35"/><circle cx="139.7" cy="116.6" r="1.35"/><circle cx="140.1" cy="91.3" r="1.35"/><circle cx="139.9" cy="95.2" r="1.35"/><circle cx="141.3" cy="91.5" r="1.35"/><circle cx="140.7" cy="119.6" r="1.35"/><circle cx="139.7" cy="95.8" r="1.35"/><circle cx="139.9" cy="86" r="1.35"/><circle cx="140.4" cy="108.5" r="1.35"/><circle cx="140.1" cy="73" r="1.35"/><circle cx="139.7" cy="105.3" r="1.35"/><circle cx="140.7" cy="79.6" r="1.35"/><circle cx="139.8" cy="116.7" r="1.35"/><circle cx="139.4" cy="113" r="1.35"/><circle cx="140.3" cy="88.7" r="1.35"/><circle cx="140.4" cy="115.9" r="1.35"/><circle cx="139.4" cy="125.6" r="1.35"/><circle cx="140.4" cy="85.2" r="1.35"/><circle cx="139.8" cy="84.6" r="1.35"/><circle cx="140.6" cy="73.6" r="1.35"/><circle cx="141" cy="106.7" r="1.35"/><circle cx="140.1" cy="122" r="1.35"/><circle cx="140.6" cy="113.2" r="1.35"/><circle cx="139.9" cy="128.9" r="1.35"/><circle cx="140.2" cy="113" r="1.35"/><circle cx="141.1" cy="131.2" r="1.35"/><circle cx="140.3" cy="110.8" r="1.35"/><circle cx="139.6" cy="76.7" r="1.35"/><circle cx="139.3" cy="74.8" r="1.35"/><circle cx="140.3" cy="95.2" r="1.35"/><circle cx="139.6" cy="88.6" r="1.35"/><circle cx="140.8" cy="81" r="1.35"/><circle cx="139.3" cy="81.5" r="1.35"/><circle cx="140.5" cy="112.9" r="1.35"/><circle cx="140" cy="92.5" r="1.35"/><circle cx="140.3" cy="97.6" r="1.35"/><circle cx="140.6" cy="115.2" r="1.35"/><circle cx="140.8" cy="105.9" r="1.35"/><circle cx="139.9" cy="95.7" r="1.35"/><circle cx="139.8" cy="94" r="1.35"/><circle cx="140.7" cy="74.4" r="1.35"/><circle cx="140.3" cy="102.2" r="1.35"/><circle cx="139.3" cy="91.5" r="1.35"/><circle cx="139.5" cy="87" r="1.35"/><circle cx="140.7" cy="127.2" r="1.35"/><circle cx="140.1" cy="106.6" r="1.35"/><circle cx="139.9" cy="82.7" r="1.35"/><circle cx="141.1" cy="100.6" r="1.35"/><circle cx="138.6" cy="93.8" r="1.35"/><circle cx="138.7" cy="107.3" r="1.35"/><circle cx="141.2" cy="110.5" r="1.35"/><circle cx="139.5" cy="144.7" r="1.35"/><circle cx="139.5" cy="155.6" r="1.35"/><circle cx="140.3" cy="156.9" r="1.35"/><circle cx="138.8" cy="135" r="1.35"/><circle cx="141.1" cy="137.5" r="1.35"/><circle cx="139.3" cy="143.4" r="1.35"/><circle cx="139.9" cy="159.4" r="1.35"/><circle cx="140.3" cy="139.9" r="1.35"/><circle cx="140.4" cy="151.7" r="1.35"/><circle cx="140" cy="148.1" r="1.35"/><circle cx="140" cy="144.2" r="1.35"/><circle cx="140" cy="150.9" r="1.35"/><circle cx="140.8" cy="148.3" r="1.35"/><circle cx="138.7" cy="169.7" r="1.35"/><circle cx="139.4" cy="163.3" r="1.35"/><circle cx="140.5" cy="181.1" r="1.35"/><circle cx="150.5" cy="71.4" r="1.35"/><circle cx="151.1" cy="65.9" r="1.35"/><circle cx="150.5" cy="63.9" r="1.35"/><circle cx="150.2" cy="60.6" r="1.35"/><circle cx="150.6" cy="68" r="1.35"/><circle cx="150.4" cy="60" r="1.35"/><circle cx="150.8" cy="61.2" r="1.35"/><circle cx="151.3" cy="58" r="1.35"/><circle cx="151.7" cy="57" r="1.35"/><circle cx="151.8" cy="77.9" r="1.35"/><circle cx="151.6" cy="95.5" r="1.35"/><circle cx="151" cy="80.5" r="1.35"/><circle cx="150.1" cy="117" r="1.35"/><circle cx="151.1" cy="85.2" r="1.35"/><circle cx="150.7" cy="98.4" r="1.35"/><circle cx="151.1" cy="109.2" r="1.35"/><circle cx="150.2" cy="85.1" r="1.35"/><circle cx="150.8" cy="89.4" r="1.35"/><circle cx="150.3" cy="111.5" r="1.35"/><circle cx="151.7" cy="101.5" r="1.35"/><circle cx="149.7" cy="93.9" r="1.35"/><circle cx="150.6" cy="115.2" r="1.35"/><circle cx="149.9" cy="113.7" r="1.35"/><circle cx="151.4" cy="106.8" r="1.35"/><circle cx="151.4" cy="84" r="1.35"/><circle cx="151" cy="102.4" r="1.35"/><circle cx="151" cy="120.9" r="1.35"/><circle cx="151.3" cy="107.8" r="1.35"/><circle cx="150.8" cy="93.8" r="1.35"/><circle cx="150.4" cy="120.5" r="1.35"/><circle cx="150.4" cy="123.4" r="1.35"/><circle cx="152" cy="78.2" r="1.35"/><circle cx="151.3" cy="74.2" r="1.35"/><circle cx="150.6" cy="123.7" r="1.35"/><circle cx="152.1" cy="78.2" r="1.35"/><circle cx="150.8" cy="100.2" r="1.35"/><circle cx="151.1" cy="97.1" r="1.35"/><circle cx="150.5" cy="113.6" r="1.35"/><circle cx="151.4" cy="115.6" r="1.35"/><circle cx="150.7" cy="104.1" r="1.35"/><circle cx="151.6" cy="111.8" r="1.35"/><circle cx="151.6" cy="108.1" r="1.35"/><circle cx="150.8" cy="100.4" r="1.35"/><circle cx="151" cy="81.1" r="1.35"/><circle cx="150.5" cy="77.6" r="1.35"/><circle cx="151.4" cy="97.4" r="1.35"/><circle cx="150.7" cy="78.3" r="1.35"/><circle cx="150.8" cy="101.4" r="1.35"/><circle cx="151" cy="79.5" r="1.35"/><circle cx="150.5" cy="83.8" r="1.35"/><circle cx="150.5" cy="97.1" r="1.35"/><circle cx="150.5" cy="74.7" r="1.35"/><circle cx="151.3" cy="75.3" r="1.35"/><circle cx="151.4" cy="76.1" r="1.35"/><circle cx="150.5" cy="81.5" r="1.35"/><circle cx="149.1" cy="82.5" r="1.35"/><circle cx="151.2" cy="117.1" r="1.35"/><circle cx="150.1" cy="114" r="1.35"/><circle cx="151" cy="92.6" r="1.35"/><circle cx="151.8" cy="106.2" r="1.35"/><circle cx="151.2" cy="104.4" r="1.35"/><circle cx="150.6" cy="117" r="1.35"/><circle cx="152.7" cy="123.7" r="1.35"/><circle cx="149.6" cy="109.7" r="1.35"/><circle cx="151.4" cy="81.1" r="1.35"/><circle cx="151.4" cy="78.2" r="1.35"/><circle cx="151" cy="75.9" r="1.35"/><circle cx="150.1" cy="88.1" r="1.35"/><circle cx="151.9" cy="98.7" r="1.35"/><circle cx="151.4" cy="121.9" r="1.35"/><circle cx="150.9" cy="72.6" r="1.35"/><circle cx="149.6" cy="113.2" r="1.35"/><circle cx="150.7" cy="110.2" r="1.35"/><circle cx="149.8" cy="115" r="1.35"/><circle cx="151.7" cy="111.9" r="1.35"/><circle cx="151.2" cy="121.4" r="1.35"/><circle cx="150.9" cy="92.9" r="1.35"/><circle cx="150.7" cy="119.3" r="1.35"/><circle cx="150.4" cy="73.2" r="1.35"/><circle cx="150.4" cy="92.2" r="1.35"/><circle cx="150.7" cy="91.2" r="1.35"/><circle cx="150.1" cy="91" r="1.35"/><circle cx="149.8" cy="105.2" r="1.35"/><circle cx="150.5" cy="119.1" r="1.35"/><circle cx="151.4" cy="88.7" r="1.35"/><circle cx="151.5" cy="110.6" r="1.35"/><circle cx="151.3" cy="83" r="1.35"/><circle cx="150.9" cy="107.4" r="1.35"/><circle cx="150" cy="81.2" r="1.35"/><circle cx="151.2" cy="90.2" r="1.35"/><circle cx="151.2" cy="94.4" r="1.35"/><circle cx="151.8" cy="93" r="1.35"/><circle cx="151" cy="88.7" r="1.35"/><circle cx="149.1" cy="82.6" r="1.35"/><circle cx="150.5" cy="117.8" r="1.35"/><circle cx="150.4" cy="77.6" r="1.35"/><circle cx="152" cy="123.4" r="1.35"/><circle cx="149.2" cy="83.4" r="1.35"/><circle cx="151.7" cy="93.2" r="1.35"/><circle cx="150.8" cy="86.2" r="1.35"/><circle cx="150.5" cy="107.2" r="1.35"/><circle cx="151.5" cy="81.5" r="1.35"/><circle cx="150.7" cy="90.6" r="1.35"/><circle cx="151.3" cy="105" r="1.35"/><circle cx="150.9" cy="91.7" r="1.35"/><circle cx="150.6" cy="104" r="1.35"/><circle cx="150.5" cy="118.2" r="1.35"/><circle cx="151.6" cy="98.3" r="1.35"/><circle cx="150.1" cy="101.5" r="1.35"/><circle cx="152" cy="107.9" r="1.35"/><circle cx="151.8" cy="95.6" r="1.35"/><circle cx="150.5" cy="92" r="1.35"/><circle cx="150.2" cy="84" r="1.35"/><circle cx="150.1" cy="125.2" r="1.35"/><circle cx="150.5" cy="146.6" r="1.35"/><circle cx="150" cy="145.4" r="1.35"/><circle cx="151.2" cy="157.5" r="1.35"/><circle cx="151.4" cy="159.7" r="1.35"/><circle cx="151.6" cy="150.6" r="1.35"/><circle cx="150.4" cy="159.6" r="1.35"/><circle cx="152" cy="138.5" r="1.35"/><circle cx="151.2" cy="159.6" r="1.35"/><circle cx="150.6" cy="141.7" r="1.35"/><circle cx="151" cy="147.4" r="1.35"/><circle cx="152.3" cy="157.8" r="1.35"/><circle cx="151.5" cy="142.4" r="1.35"/><circle cx="149.7" cy="159.8" r="1.35"/><circle cx="152.3" cy="149.6" r="1.35"/><circle cx="151.5" cy="133" r="1.35"/><circle cx="151.2" cy="143.3" r="1.35"/><circle cx="150.1" cy="155.2" r="1.35"/><circle cx="150.7" cy="161.5" r="1.35"/><circle cx="152" cy="171.2" r="1.35"/><circle cx="161.3" cy="54.6" r="1.35"/><circle cx="161.9" cy="63.7" r="1.35"/><circle cx="160.3" cy="64" r="1.35"/><circle cx="161.3" cy="57.5" r="1.35"/><circle cx="161.6" cy="56.4" r="1.35"/><circle cx="162.1" cy="59.5" r="1.35"/><circle cx="162.8" cy="57.2" r="1.35"/><circle cx="160.8" cy="57.8" r="1.35"/><circle cx="162.4" cy="125.5" r="1.35"/><circle cx="161" cy="70.7" r="1.35"/><circle cx="162.3" cy="107.5" r="1.35"/><circle cx="161.8" cy="123.9" r="1.35"/><circle cx="161.8" cy="110.1" r="1.35"/><circle cx="161.3" cy="94.4" r="1.35"/><circle cx="162.5" cy="86.8" r="1.35"/><circle cx="161.9" cy="107.6" r="1.35"/><circle cx="161.7" cy="111.9" r="1.35"/><circle cx="162.8" cy="77.9" r="1.35"/><circle cx="162.6" cy="96.8" r="1.35"/><circle cx="162.7" cy="74.5" r="1.35"/><circle cx="163.2" cy="106.3" r="1.35"/><circle cx="163" cy="89.6" r="1.35"/><circle cx="162.6" cy="111.6" r="1.35"/><circle cx="163.6" cy="114.6" r="1.35"/><circle cx="161.4" cy="92.9" r="1.35"/><circle cx="162.3" cy="75.7" r="1.35"/><circle cx="161.3" cy="120.1" r="1.35"/><circle cx="161.3" cy="93" r="1.35"/><circle cx="161" cy="128.1" r="1.35"/><circle cx="162.1" cy="88.9" r="1.35"/><circle cx="161.7" cy="104.2" r="1.35"/><circle cx="161.3" cy="84.8" r="1.35"/><circle cx="162.3" cy="122.4" r="1.35"/><circle cx="161.4" cy="110.7" r="1.35"/><circle cx="160.2" cy="91.6" r="1.35"/><circle cx="162.3" cy="115.1" r="1.35"/><circle cx="161.2" cy="70.2" r="1.35"/><circle cx="161.3" cy="93.7" r="1.35"/><circle cx="161.7" cy="129" r="1.35"/><circle cx="162.6" cy="85.3" r="1.35"/><circle cx="161.5" cy="82.2" r="1.35"/><circle cx="160.8" cy="93.2" r="1.35"/><circle cx="162.9" cy="82.6" r="1.35"/><circle cx="163" cy="93.8" r="1.35"/><circle cx="161.1" cy="122.1" r="1.35"/><circle cx="163" cy="105" r="1.35"/><circle cx="161.5" cy="125.2" r="1.35"/><circle cx="161.7" cy="71.8" r="1.35"/><circle cx="161.4" cy="113.7" r="1.35"/><circle cx="162.4" cy="110.2" r="1.35"/><circle cx="160.9" cy="128.7" r="1.35"/><circle cx="163.2" cy="67.5" r="1.35"/><circle cx="161.3" cy="89.9" r="1.35"/><circle cx="161.2" cy="96.7" r="1.35"/><circle cx="161.4" cy="106" r="1.35"/><circle cx="162.9" cy="130" r="1.35"/><circle cx="163.6" cy="92.1" r="1.35"/><circle cx="161.5" cy="120.7" r="1.35"/><circle cx="161.1" cy="131.8" r="1.35"/><circle cx="160.9" cy="70.4" r="1.35"/><circle cx="161.1" cy="109.3" r="1.35"/><circle cx="162" cy="80.4" r="1.35"/><circle cx="162.3" cy="90.4" r="1.35"/><circle cx="161.8" cy="75.4" r="1.35"/><circle cx="160.9" cy="71.5" r="1.35"/><circle cx="162.6" cy="77" r="1.35"/><circle cx="161.2" cy="115" r="1.35"/><circle cx="161" cy="82.7" r="1.35"/><circle cx="162.3" cy="117.2" r="1.35"/><circle cx="160.7" cy="73.9" r="1.35"/><circle cx="161.7" cy="122.7" r="1.35"/><circle cx="161.9" cy="128.3" r="1.35"/><circle cx="162" cy="89.2" r="1.35"/><circle cx="161.7" cy="101.4" r="1.35"/><circle cx="161.5" cy="118.1" r="1.35"/><circle cx="161.8" cy="85.9" r="1.35"/><circle cx="161.4" cy="103.5" r="1.35"/><circle cx="161.8" cy="74.6" r="1.35"/><circle cx="162.6" cy="85.4" r="1.35"/><circle cx="162.3" cy="117.3" r="1.35"/><circle cx="161.9" cy="69.6" r="1.35"/><circle cx="162.6" cy="80.4" r="1.35"/><circle cx="160.9" cy="96.3" r="1.35"/><circle cx="162.1" cy="122.1" r="1.35"/><circle cx="163" cy="76.2" r="1.35"/><circle cx="162.7" cy="130" r="1.35"/><circle cx="161.1" cy="106.4" r="1.35"/><circle cx="161.7" cy="123" r="1.35"/><circle cx="162.6" cy="66.7" r="1.35"/><circle cx="161.7" cy="76.1" r="1.35"/><circle cx="162.3" cy="113" r="1.35"/><circle cx="160.7" cy="76.3" r="1.35"/><circle cx="161.7" cy="73.3" r="1.35"/><circle cx="161.8" cy="85.8" r="1.35"/><circle cx="162.9" cy="121.9" r="1.35"/><circle cx="161.6" cy="69" r="1.35"/><circle cx="161.6" cy="83.2" r="1.35"/><circle cx="162" cy="73.4" r="1.35"/><circle cx="162.4" cy="98.3" r="1.35"/><circle cx="161.5" cy="109.2" r="1.35"/><circle cx="163.2" cy="103.5" r="1.35"/><circle cx="160.6" cy="99.1" r="1.35"/><circle cx="162.5" cy="85.8" r="1.35"/><circle cx="161.4" cy="114.8" r="1.35"/><circle cx="161.8" cy="94.3" r="1.35"/><circle cx="162.6" cy="97.5" r="1.35"/><circle cx="161.3" cy="95.8" r="1.35"/><circle cx="162.5" cy="69.3" r="1.35"/><circle cx="162" cy="100.8" r="1.35"/><circle cx="161.6" cy="102.1" r="1.35"/><circle cx="161.4" cy="72.5" r="1.35"/><circle cx="162.1" cy="90.5" r="1.35"/><circle cx="161.5" cy="81.2" r="1.35"/><circle cx="162.6" cy="115.5" r="1.35"/><circle cx="161.7" cy="92.8" r="1.35"/><circle cx="161.8" cy="129.8" r="1.35"/><circle cx="162.8" cy="129.4" r="1.35"/><circle cx="161.9" cy="90.1" r="1.35"/><circle cx="161.2" cy="85.9" r="1.35"/><circle cx="161.4" cy="106.2" r="1.35"/><circle cx="161.3" cy="98.8" r="1.35"/><circle cx="161.5" cy="100.1" r="1.35"/><circle cx="161.8" cy="72.1" r="1.35"/><circle cx="161.6" cy="82.6" r="1.35"/><circle cx="161.7" cy="94.1" r="1.35"/><circle cx="163.2" cy="122.8" r="1.35"/><circle cx="161.3" cy="110.9" r="1.35"/><circle cx="162.2" cy="71.6" r="1.35"/><circle cx="163.2" cy="87.7" r="1.35"/><circle cx="161.7" cy="86.9" r="1.35"/><circle cx="162.4" cy="108.4" r="1.35"/><circle cx="160.6" cy="69.7" r="1.35"/><circle cx="161.9" cy="107.2" r="1.35"/><circle cx="161.6" cy="102.4" r="1.35"/><circle cx="162.8" cy="67.5" r="1.35"/><circle cx="161.4" cy="127.7" r="1.35"/><circle cx="161.9" cy="66.4" r="1.35"/><circle cx="160.8" cy="114.6" r="1.35"/><circle cx="160.8" cy="130.9" r="1.35"/><circle cx="162.4" cy="126.5" r="1.35"/><circle cx="162" cy="145.5" r="1.35"/><circle cx="161" cy="138.8" r="1.35"/><circle cx="161.1" cy="134.1" r="1.35"/><circle cx="162.1" cy="137.8" r="1.35"/><circle cx="161.8" cy="134.1" r="1.35"/><circle cx="161.5" cy="147" r="1.35"/><circle cx="161.4" cy="134" r="1.35"/><circle cx="161" cy="157.5" r="1.35"/><circle cx="162.8" cy="172.3" r="1.35"/><circle cx="161.6" cy="155.1" r="1.35"/><circle cx="171.4" cy="47" r="1.35"/><circle cx="172.4" cy="55.7" r="1.35"/><circle cx="173.5" cy="54.5" r="1.35"/><circle cx="172.9" cy="58.1" r="1.35"/><circle cx="173.6" cy="58.3" r="1.35"/><circle cx="172.4" cy="54.7" r="1.35"/><circle cx="172.8" cy="58.9" r="1.35"/><circle cx="172.4" cy="52" r="1.35"/><circle cx="172.3" cy="54.2" r="1.35"/><circle cx="172.5" cy="81.9" r="1.35"/><circle cx="172" cy="84.1" r="1.35"/><circle cx="172.3" cy="94.7" r="1.35"/><circle cx="173.2" cy="95.3" r="1.35"/><circle cx="172.2" cy="89.4" r="1.35"/><circle cx="173.4" cy="101.8" r="1.35"/><circle cx="172.7" cy="75.3" r="1.35"/><circle cx="172.7" cy="94.8" r="1.35"/><circle cx="174" cy="76.7" r="1.35"/><circle cx="174.1" cy="83.5" r="1.35"/><circle cx="173.3" cy="102.8" r="1.35"/><circle cx="171.8" cy="93.9" r="1.35"/><circle cx="173.2" cy="117.6" r="1.35"/><circle cx="173.5" cy="89.7" r="1.35"/><circle cx="172.3" cy="75.2" r="1.35"/><circle cx="172.8" cy="79.5" r="1.35"/><circle cx="172.4" cy="110.3" r="1.35"/><circle cx="173.9" cy="94.4" r="1.35"/><circle cx="173" cy="93.4" r="1.35"/><circle cx="172.6" cy="116.2" r="1.35"/><circle cx="173.1" cy="105.6" r="1.35"/><circle cx="172.9" cy="106.7" r="1.35"/><circle cx="172.4" cy="74.5" r="1.35"/><circle cx="173.1" cy="96.8" r="1.35"/><circle cx="173.6" cy="68.9" r="1.35"/><circle cx="172.9" cy="113.3" r="1.35"/><circle cx="171.8" cy="114.7" r="1.35"/><circle cx="172.5" cy="116.2" r="1.35"/><circle cx="172.1" cy="103" r="1.35"/><circle cx="172.4" cy="103.4" r="1.35"/><circle cx="174.2" cy="77.1" r="1.35"/><circle cx="172.8" cy="92.6" r="1.35"/><circle cx="172.9" cy="76.5" r="1.35"/><circle cx="172.6" cy="69.5" r="1.35"/><circle cx="173.3" cy="89.6" r="1.35"/><circle cx="172.7" cy="77.8" r="1.35"/><circle cx="173.4" cy="91" r="1.35"/><circle cx="173.1" cy="111" r="1.35"/><circle cx="172.4" cy="110.7" r="1.35"/><circle cx="172" cy="103.8" r="1.35"/><circle cx="172.2" cy="92.5" r="1.35"/><circle cx="171.9" cy="106.2" r="1.35"/><circle cx="171.3" cy="76.8" r="1.35"/><circle cx="174.4" cy="82.7" r="1.35"/><circle cx="173.4" cy="106.9" r="1.35"/><circle cx="172.9" cy="83.1" r="1.35"/><circle cx="173.6" cy="103.6" r="1.35"/><circle cx="173.6" cy="94.3" r="1.35"/><circle cx="172.5" cy="81.9" r="1.35"/><circle cx="173" cy="68.3" r="1.35"/><circle cx="174.6" cy="115.6" r="1.35"/><circle cx="172.6" cy="113.4" r="1.35"/><circle cx="172.5" cy="67.8" r="1.35"/><circle cx="172.4" cy="118.4" r="1.35"/><circle cx="172.6" cy="79.6" r="1.35"/><circle cx="173" cy="100" r="1.35"/><circle cx="172.6" cy="65.9" r="1.35"/><circle cx="173.7" cy="118" r="1.35"/><circle cx="172.9" cy="101.1" r="1.35"/><circle cx="173.6" cy="91.7" r="1.35"/><circle cx="171.7" cy="66.4" r="1.35"/><circle cx="172.3" cy="92" r="1.35"/><circle cx="172.7" cy="82.2" r="1.35"/><circle cx="172.3" cy="102.2" r="1.35"/><circle cx="172.8" cy="85.8" r="1.35"/><circle cx="172.5" cy="89.8" r="1.35"/><circle cx="172.8" cy="93.8" r="1.35"/><circle cx="173.7" cy="69.7" r="1.35"/><circle cx="172.6" cy="79.1" r="1.35"/><circle cx="172.2" cy="115.5" r="1.35"/><circle cx="173.8" cy="117.6" r="1.35"/><circle cx="174.4" cy="110.9" r="1.35"/><circle cx="172.2" cy="115.3" r="1.35"/><circle cx="173.6" cy="95.7" r="1.35"/><circle cx="172.9" cy="101.1" r="1.35"/><circle cx="172" cy="115.2" r="1.35"/><circle cx="172.1" cy="66.9" r="1.35"/><circle cx="171" cy="63.8" r="1.35"/><circle cx="172.5" cy="68.4" r="1.35"/><circle cx="174" cy="63.4" r="1.35"/><circle cx="171.4" cy="63.8" r="1.35"/><circle cx="173.3" cy="91.6" r="1.35"/><circle cx="171.8" cy="95.1" r="1.35"/><circle cx="172.8" cy="62" r="1.35"/><circle cx="171.4" cy="65.9" r="1.35"/><circle cx="173.3" cy="109.5" r="1.35"/><circle cx="171" cy="85.2" r="1.35"/><circle cx="172.4" cy="62.9" r="1.35"/><circle cx="173.4" cy="105.9" r="1.35"/><circle cx="172.7" cy="92" r="1.35"/><circle cx="173.8" cy="81.1" r="1.35"/><circle cx="172.4" cy="75.4" r="1.35"/><circle cx="172" cy="112.3" r="1.35"/><circle cx="173" cy="76.4" r="1.35"/><circle cx="173.1" cy="89.3" r="1.35"/><circle cx="172.9" cy="75.6" r="1.35"/><circle cx="172.1" cy="99.3" r="1.35"/><circle cx="172.7" cy="76.5" r="1.35"/><circle cx="173.7" cy="112" r="1.35"/><circle cx="173" cy="79.2" r="1.35"/><circle cx="173.3" cy="80.8" r="1.35"/><circle cx="172.6" cy="107" r="1.35"/><circle cx="171.7" cy="92.8" r="1.35"/><circle cx="173.9" cy="75.9" r="1.35"/><circle cx="173.4" cy="74.4" r="1.35"/><circle cx="171" cy="83.1" r="1.35"/><circle cx="173.9" cy="82.3" r="1.35"/><circle cx="174.6" cy="84.1" r="1.35"/><circle cx="171.6" cy="69.7" r="1.35"/><circle cx="172.9" cy="143.5" r="1.35"/><circle cx="172.1" cy="130.8" r="1.35"/><circle cx="172.5" cy="142" r="1.35"/><circle cx="173.7" cy="133.8" r="1.35"/><circle cx="172.8" cy="134.5" r="1.35"/><circle cx="172.7" cy="130.8" r="1.35"/><circle cx="174.3" cy="123.4" r="1.35"/><circle cx="173.4" cy="125.4" r="1.35"/><circle cx="174.1" cy="147.9" r="1.35"/><circle cx="171.4" cy="129.6" r="1.35"/><circle cx="173.1" cy="141.2" r="1.35"/><circle cx="172.6" cy="148.3" r="1.35"/><circle cx="173.5" cy="166.5" r="1.35"/><circle cx="173.6" cy="163.6" r="1.35"/><circle cx="173.5" cy="157" r="1.35"/><circle cx="183.4" cy="46.2" r="1.35"/><circle cx="184" cy="45.7" r="1.35"/><circle cx="183.6" cy="50.4" r="1.35"/><circle cx="183.5" cy="51" r="1.35"/><circle cx="184.1" cy="54.2" r="1.35"/><circle cx="182.8" cy="56.1" r="1.35"/><circle cx="183.5" cy="54.2" r="1.35"/><circle cx="184" cy="51.8" r="1.35"/><circle cx="183.6" cy="74.7" r="1.35"/><circle cx="183.8" cy="85.2" r="1.35"/><circle cx="182" cy="66.7" r="1.35"/><circle cx="183.2" cy="73.9" r="1.35"/><circle cx="184.5" cy="100.8" r="1.35"/><circle cx="184.5" cy="90.6" r="1.35"/><circle cx="183.6" cy="103.7" r="1.35"/><circle cx="183.2" cy="109" r="1.35"/><circle cx="183.8" cy="110.8" r="1.35"/><circle cx="185" cy="79.6" r="1.35"/><circle cx="183.9" cy="60.8" r="1.35"/><circle cx="183.9" cy="97.8" r="1.35"/><circle cx="184.1" cy="69.4" r="1.35"/><circle cx="184.2" cy="101.2" r="1.35"/><circle cx="183.8" cy="85" r="1.35"/><circle cx="183.2" cy="67.9" r="1.35"/><circle cx="183" cy="58.8" r="1.35"/><circle cx="183.6" cy="72.1" r="1.35"/><circle cx="183.9" cy="91.4" r="1.35"/><circle cx="183.1" cy="91.7" r="1.35"/><circle cx="184.3" cy="75.1" r="1.35"/><circle cx="182.7" cy="89.4" r="1.35"/><circle cx="184.9" cy="80.5" r="1.35"/><circle cx="182.9" cy="76" r="1.35"/><circle cx="183.5" cy="107.3" r="1.35"/><circle cx="183.9" cy="104.1" r="1.35"/><circle cx="185.4" cy="105.6" r="1.35"/><circle cx="184.2" cy="111.2" r="1.35"/><circle cx="184.5" cy="73.6" r="1.35"/><circle cx="184.3" cy="70.7" r="1.35"/><circle cx="184.8" cy="89.5" r="1.35"/><circle cx="184.7" cy="73.3" r="1.35"/><circle cx="185.2" cy="63.2" r="1.35"/><circle cx="183.4" cy="88.2" r="1.35"/><circle cx="183.1" cy="84.9" r="1.35"/><circle cx="184.5" cy="78.5" r="1.35"/><circle cx="183.3" cy="58.1" r="1.35"/><circle cx="183.1" cy="89" r="1.35"/><circle cx="183.7" cy="92.1" r="1.35"/><circle cx="183.4" cy="84.9" r="1.35"/><circle cx="183.8" cy="84" r="1.35"/><circle cx="182.4" cy="73.1" r="1.35"/><circle cx="182.2" cy="81.9" r="1.35"/><circle cx="184.9" cy="70.7" r="1.35"/><circle cx="184.4" cy="102.8" r="1.35"/><circle cx="183.9" cy="106.8" r="1.35"/><circle cx="183.1" cy="85.2" r="1.35"/><circle cx="182.8" cy="109.1" r="1.35"/><circle cx="184.1" cy="84.5" r="1.35"/><circle cx="183.1" cy="103.4" r="1.35"/><circle cx="183.8" cy="85.2" r="1.35"/><circle cx="183.4" cy="69.6" r="1.35"/><circle cx="184.1" cy="103" r="1.35"/><circle cx="184.4" cy="107.5" r="1.35"/><circle cx="181.9" cy="95" r="1.35"/><circle cx="184" cy="101.7" r="1.35"/><circle cx="182.6" cy="101.3" r="1.35"/><circle cx="184.3" cy="74.4" r="1.35"/><circle cx="184.9" cy="71.2" r="1.35"/><circle cx="183.8" cy="85.6" r="1.35"/><circle cx="183.6" cy="76.5" r="1.35"/><circle cx="184" cy="107.2" r="1.35"/><circle cx="182.7" cy="108.4" r="1.35"/><circle cx="183.5" cy="94" r="1.35"/><circle cx="183.5" cy="63.9" r="1.35"/><circle cx="185.2" cy="74.8" r="1.35"/><circle cx="183.5" cy="68" r="1.35"/><circle cx="183.3" cy="111.2" r="1.35"/><circle cx="182.5" cy="91.6" r="1.35"/><circle cx="184.5" cy="61.2" r="1.35"/><circle cx="184.6" cy="104.9" r="1.35"/><circle cx="183.8" cy="105.2" r="1.35"/><circle cx="182.4" cy="88.7" r="1.35"/><circle cx="184.7" cy="84.6" r="1.35"/><circle cx="183.3" cy="78.8" r="1.35"/><circle cx="183.6" cy="66.7" r="1.35"/><circle cx="183.8" cy="101" r="1.35"/><circle cx="183.8" cy="99.9" r="1.35"/><circle cx="184.8" cy="95.5" r="1.35"/><circle cx="183" cy="72.7" r="1.35"/><circle cx="183.6" cy="68.1" r="1.35"/><circle cx="183" cy="108.9" r="1.35"/><circle cx="182.8" cy="75.9" r="1.35"/><circle cx="185.2" cy="73.7" r="1.35"/><circle cx="183" cy="109.4" r="1.35"/><circle cx="182.3" cy="99.8" r="1.35"/><circle cx="182.4" cy="76" r="1.35"/><circle cx="183.5" cy="84.3" r="1.35"/><circle cx="184.6" cy="59.9" r="1.35"/><circle cx="184.3" cy="83.5" r="1.35"/><circle cx="183" cy="98.2" r="1.35"/><circle cx="183.7" cy="89.4" r="1.35"/><circle cx="184.2" cy="71" r="1.35"/><circle cx="183.6" cy="60.8" r="1.35"/><circle cx="183.9" cy="77.2" r="1.35"/><circle cx="181.9" cy="92.5" r="1.35"/><circle cx="183.4" cy="80.4" r="1.35"/><circle cx="183.2" cy="83.6" r="1.35"/><circle cx="184" cy="109.8" r="1.35"/><circle cx="184.3" cy="95" r="1.35"/><circle cx="184.2" cy="99.2" r="1.35"/><circle cx="182.7" cy="108.7" r="1.35"/><circle cx="183.3" cy="106.7" r="1.35"/><circle cx="181.9" cy="129.4" r="1.35"/><circle cx="183" cy="118.2" r="1.35"/><circle cx="183.7" cy="117" r="1.35"/><circle cx="183.4" cy="130.2" r="1.35"/><circle cx="183.5" cy="136" r="1.35"/><circle cx="184.9" cy="122.5" r="1.35"/><circle cx="183.8" cy="135.3" r="1.35"/><circle cx="182.6" cy="127.1" r="1.35"/><circle cx="183.4" cy="127.7" r="1.35"/><circle cx="183.8" cy="143.5" r="1.35"/><circle cx="183.9" cy="114.3" r="1.35"/><circle cx="183.5" cy="120.9" r="1.35"/><circle cx="183.4" cy="116.2" r="1.35"/><circle cx="182.9" cy="155.5" r="1.35"/><circle cx="183.7" cy="156.9" r="1.35"/><circle cx="193.9" cy="46.1" r="1.35"/><circle cx="194.5" cy="48.8" r="1.35"/><circle cx="194.2" cy="54.6" r="1.35"/><circle cx="194.9" cy="53.5" r="1.35"/><circle cx="194.7" cy="54.6" r="1.35"/><circle cx="196.1" cy="59.9" r="1.35"/><circle cx="195.8" cy="54.8" r="1.35"/><circle cx="194.1" cy="61.8" r="1.35"/><circle cx="194.3" cy="49.7" r="1.35"/><circle cx="194.4" cy="60.1" r="1.35"/><circle cx="195.1" cy="55.1" r="1.35"/><circle cx="193.4" cy="73.8" r="1.35"/><circle cx="195.6" cy="98.4" r="1.35"/><circle cx="194.4" cy="78.8" r="1.35"/><circle cx="193.8" cy="82.1" r="1.35"/><circle cx="194" cy="90.7" r="1.35"/><circle cx="194.8" cy="80.9" r="1.35"/><circle cx="194.2" cy="82.9" r="1.35"/><circle cx="195.8" cy="83.8" r="1.35"/><circle cx="195.2" cy="79.3" r="1.35"/><circle cx="194.1" cy="103.3" r="1.35"/><circle cx="195.9" cy="80.5" r="1.35"/><circle cx="194.4" cy="92.9" r="1.35"/><circle cx="194.6" cy="95.3" r="1.35"/><circle cx="194" cy="105.7" r="1.35"/><circle cx="194" cy="82" r="1.35"/><circle cx="193.7" cy="92.1" r="1.35"/><circle cx="194.8" cy="86.8" r="1.35"/><circle cx="195.9" cy="107.1" r="1.35"/><circle cx="194" cy="62.8" r="1.35"/><circle cx="195.6" cy="81.1" r="1.35"/><circle cx="194.7" cy="90.2" r="1.35"/><circle cx="194" cy="72.2" r="1.35"/><circle cx="192.8" cy="71" r="1.35"/><circle cx="196" cy="104" r="1.35"/><circle cx="195.5" cy="99.8" r="1.35"/><circle cx="195" cy="100.5" r="1.35"/><circle cx="193.8" cy="94.8" r="1.35"/><circle cx="195.3" cy="97" r="1.35"/><circle cx="194.6" cy="73.6" r="1.35"/><circle cx="193.6" cy="94.4" r="1.35"/><circle cx="193.8" cy="107.4" r="1.35"/><circle cx="194.3" cy="68.3" r="1.35"/><circle cx="194.8" cy="95.4" r="1.35"/><circle cx="194" cy="105.7" r="1.35"/><circle cx="194.5" cy="86.3" r="1.35"/><circle cx="195.6" cy="84.8" r="1.35"/><circle cx="195.1" cy="103.1" r="1.35"/><circle cx="195.5" cy="92.5" r="1.35"/><circle cx="194.3" cy="81.3" r="1.35"/><circle cx="195.9" cy="68.7" r="1.35"/><circle cx="194" cy="86.4" r="1.35"/><circle cx="194.1" cy="107.6" r="1.35"/><circle cx="192.9" cy="78.2" r="1.35"/><circle cx="193.8" cy="96.9" r="1.35"/><circle cx="195.2" cy="93.8" r="1.35"/><circle cx="194.9" cy="93.7" r="1.35"/><circle cx="195" cy="74.6" r="1.35"/><circle cx="194" cy="78.5" r="1.35"/><circle cx="194.5" cy="79.2" r="1.35"/><circle cx="194.6" cy="92.2" r="1.35"/><circle cx="195" cy="102.1" r="1.35"/><circle cx="195.1" cy="104.9" r="1.35"/><circle cx="194.6" cy="67.4" r="1.35"/><circle cx="195.1" cy="65.9" r="1.35"/><circle cx="195" cy="74.2" r="1.35"/><circle cx="193.4" cy="84.5" r="1.35"/><circle cx="194.6" cy="99.7" r="1.35"/><circle cx="194.5" cy="101.5" r="1.35"/><circle cx="194.9" cy="94.2" r="1.35"/><circle cx="195.8" cy="77.5" r="1.35"/><circle cx="195" cy="83.8" r="1.35"/><circle cx="194.3" cy="76.4" r="1.35"/><circle cx="193.3" cy="88.2" r="1.35"/><circle cx="195.1" cy="90" r="1.35"/><circle cx="195.2" cy="72.2" r="1.35"/><circle cx="194.6" cy="90.5" r="1.35"/><circle cx="195.8" cy="77.7" r="1.35"/><circle cx="196.2" cy="82.2" r="1.35"/><circle cx="193.3" cy="104.1" r="1.35"/><circle cx="195.2" cy="93.1" r="1.35"/><circle cx="195" cy="94.5" r="1.35"/><circle cx="195.2" cy="71.9" r="1.35"/><circle cx="195.8" cy="72.4" r="1.35"/><circle cx="193.6" cy="78.8" r="1.35"/><circle cx="194.6" cy="130.3" r="1.35"/><circle cx="194.4" cy="110" r="1.35"/><circle cx="195.1" cy="126.7" r="1.35"/><circle cx="193.8" cy="111" r="1.35"/><circle cx="195.3" cy="139.5" r="1.35"/><circle cx="194.8" cy="127.2" r="1.35"/><circle cx="194.8" cy="111.3" r="1.35"/><circle cx="194.4" cy="108.7" r="1.35"/><circle cx="194.5" cy="116.7" r="1.35"/><circle cx="194.2" cy="129.3" r="1.35"/><circle cx="194.4" cy="123" r="1.35"/><circle cx="194" cy="117.2" r="1.35"/><circle cx="194" cy="119.5" r="1.35"/><circle cx="194.4" cy="145.3" r="1.35"/><circle cx="194.6" cy="145.6" r="1.35"/><circle cx="194.8" cy="150.8" r="1.35"/><circle cx="206.8" cy="44.5" r="1.35"/><circle cx="206.6" cy="44.8" r="1.35"/><circle cx="204.9" cy="46.4" r="1.35"/><circle cx="207.2" cy="82.3" r="1.35"/><circle cx="205.2" cy="69.5" r="1.35"/><circle cx="204.6" cy="68.3" r="1.35"/><circle cx="204.6" cy="75.5" r="1.35"/><circle cx="205.5" cy="75.7" r="1.35"/><circle cx="206" cy="59.6" r="1.35"/><circle cx="203.8" cy="49.2" r="1.35"/><circle cx="205.5" cy="89.4" r="1.35"/><circle cx="205.8" cy="80.3" r="1.35"/><circle cx="205.4" cy="93.2" r="1.35"/><circle cx="206.1" cy="91.5" r="1.35"/><circle cx="205" cy="86.7" r="1.35"/><circle cx="204.4" cy="71.6" r="1.35"/><circle cx="204.7" cy="93.8" r="1.35"/><circle cx="206.2" cy="99.6" r="1.35"/><circle cx="207" cy="51.9" r="1.35"/><circle cx="204.8" cy="60.8" r="1.35"/><circle cx="206.6" cy="74.8" r="1.35"/><circle cx="205.4" cy="64.1" r="1.35"/><circle cx="206.2" cy="99.5" r="1.35"/><circle cx="204.8" cy="51.9" r="1.35"/><circle cx="205.7" cy="55.7" r="1.35"/><circle cx="205.5" cy="68.3" r="1.35"/><circle cx="205.3" cy="77.2" r="1.35"/><circle cx="205.2" cy="96.8" r="1.35"/><circle cx="204.2" cy="78.8" r="1.35"/><circle cx="206.1" cy="78.3" r="1.35"/><circle cx="206" cy="94.8" r="1.35"/><circle cx="206.4" cy="83.1" r="1.35"/><circle cx="205.7" cy="76.3" r="1.35"/><circle cx="206.5" cy="65.5" r="1.35"/><circle cx="204.5" cy="48.9" r="1.35"/><circle cx="205" cy="59.4" r="1.35"/><circle cx="205.2" cy="51.8" r="1.35"/><circle cx="205.1" cy="87.6" r="1.35"/><circle cx="204.5" cy="77.1" r="1.35"/><circle cx="207.4" cy="53.3" r="1.35"/><circle cx="205.1" cy="90.4" r="1.35"/><circle cx="205.1" cy="85.7" r="1.35"/><circle cx="205.6" cy="49.8" r="1.35"/><circle cx="205.3" cy="89.5" r="1.35"/><circle cx="205.9" cy="49.6" r="1.35"/><circle cx="206" cy="56.5" r="1.35"/><circle cx="203.6" cy="64.7" r="1.35"/><circle cx="205.9" cy="61.5" r="1.35"/><circle cx="205.8" cy="81" r="1.35"/><circle cx="205.1" cy="80" r="1.35"/><circle cx="205.8" cy="77.3" r="1.35"/><circle cx="205.5" cy="67.9" r="1.35"/><circle cx="205.8" cy="85.2" r="1.35"/><circle cx="205" cy="57.6" r="1.35"/><circle cx="203.6" cy="60.5" r="1.35"/><circle cx="205.6" cy="62.5" r="1.35"/><circle cx="206.7" cy="51.4" r="1.35"/><circle cx="204.9" cy="57.7" r="1.35"/><circle cx="205.6" cy="91.9" r="1.35"/><circle cx="206.3" cy="84.4" r="1.35"/><circle cx="206.8" cy="80.6" r="1.35"/><circle cx="205.4" cy="67.9" r="1.35"/><circle cx="205.4" cy="51.1" r="1.35"/><circle cx="204.6" cy="73.6" r="1.35"/><circle cx="204.8" cy="50.5" r="1.35"/><circle cx="206.3" cy="49.5" r="1.35"/><circle cx="206.4" cy="65.2" r="1.35"/><circle cx="205.5" cy="55.7" r="1.35"/><circle cx="206" cy="126.6" r="1.35"/><circle cx="205.3" cy="126.6" r="1.35"/><circle cx="205.7" cy="112.7" r="1.35"/><circle cx="204.5" cy="110.1" r="1.35"/><circle cx="205.5" cy="146" r="1.35"/><circle cx="205.2" cy="101.8" r="1.35"/><circle cx="205.9" cy="144.9" r="1.35"/><circle cx="206.4" cy="132.9" r="1.35"/><circle cx="205.5" cy="138.4" r="1.35"/><circle cx="204.1" cy="102.7" r="1.35"/><circle cx="205.8" cy="108.6" r="1.35"/><circle cx="205.1" cy="102" r="1.35"/><circle cx="207.3" cy="120.3" r="1.35"/><circle cx="205.9" cy="104.6" r="1.35"/><circle cx="207.1" cy="132" r="1.35"/><circle cx="206" cy="148.7" r="1.35"/><circle cx="206" cy="115.2" r="1.35"/><circle cx="205.7" cy="110.2" r="1.35"/><circle cx="206" cy="134" r="1.35"/><circle cx="216.9" cy="40.6" r="1.35"/><circle cx="215.7" cy="40.5" r="1.35"/><circle cx="216.3" cy="42.6" r="1.35"/><circle cx="215.7" cy="47.1" r="1.35"/><circle cx="217.1" cy="82.4" r="1.35"/><circle cx="216.8" cy="45.3" r="1.35"/><circle cx="217.2" cy="99.1" r="1.35"/><circle cx="215.8" cy="77.9" r="1.35"/><circle cx="216" cy="102.3" r="1.35"/><circle cx="217" cy="88.1" r="1.35"/><circle cx="217.1" cy="67.5" r="1.35"/><circle cx="216" cy="47.2" r="1.35"/><circle cx="214.7" cy="62.1" r="1.35"/><circle cx="216.1" cy="92.8" r="1.35"/><circle cx="217.8" cy="87.6" r="1.35"/><circle cx="217" cy="68.8" r="1.35"/><circle cx="216.2" cy="97" r="1.35"/><circle cx="216.5" cy="104.8" r="1.35"/><circle cx="216.1" cy="90.1" r="1.35"/><circle cx="217" cy="81.8" r="1.35"/><circle cx="215.9" cy="103.5" r="1.35"/><circle cx="217.4" cy="99.3" r="1.35"/><circle cx="215.8" cy="105.9" r="1.35"/><circle cx="217.1" cy="103.6" r="1.35"/><circle cx="215.4" cy="53.5" r="1.35"/><circle cx="215.6" cy="52.8" r="1.35"/><circle cx="217.1" cy="92.6" r="1.35"/><circle cx="217.6" cy="61.8" r="1.35"/><circle cx="216.9" cy="64.5" r="1.35"/><circle cx="216.1" cy="72.1" r="1.35"/><circle cx="216.1" cy="97.2" r="1.35"/><circle cx="217.1" cy="67.1" r="1.35"/><circle cx="216.4" cy="87.2" r="1.35"/><circle cx="217.1" cy="56.9" r="1.35"/><circle cx="218" cy="78.8" r="1.35"/><circle cx="216.5" cy="44.8" r="1.35"/><circle cx="216.5" cy="44.8" r="1.35"/><circle cx="216.2" cy="105.5" r="1.35"/><circle cx="217.1" cy="83.8" r="1.35"/><circle cx="217.7" cy="59" r="1.35"/><circle cx="217" cy="74.2" r="1.35"/><circle cx="216.2" cy="102" r="1.35"/><circle cx="214.8" cy="70.5" r="1.35"/><circle cx="216.1" cy="63.9" r="1.35"/><circle cx="217.3" cy="90.2" r="1.35"/><circle cx="215.2" cy="54" r="1.35"/><circle cx="216.8" cy="92.7" r="1.35"/><circle cx="217" cy="82.5" r="1.35"/><circle cx="216.4" cy="54.6" r="1.35"/><circle cx="217.3" cy="55.9" r="1.35"/><circle cx="216.7" cy="89.5" r="1.35"/><circle cx="215.3" cy="104" r="1.35"/><circle cx="215.9" cy="48.3" r="1.35"/><circle cx="216.7" cy="72.9" r="1.35"/><circle cx="216.6" cy="95.2" r="1.35"/><circle cx="216.1" cy="97.2" r="1.35"/><circle cx="215.5" cy="67.5" r="1.35"/><circle cx="217.4" cy="46.3" r="1.35"/><circle cx="217.3" cy="58.8" r="1.35"/><circle cx="217" cy="48.6" r="1.35"/><circle cx="216.6" cy="77.3" r="1.35"/><circle cx="217.3" cy="95.2" r="1.35"/><circle cx="217.3" cy="65.8" r="1.35"/><circle cx="217.4" cy="89.4" r="1.35"/><circle cx="217.4" cy="98.9" r="1.35"/><circle cx="215.4" cy="97.6" r="1.35"/><circle cx="216.1" cy="86.2" r="1.35"/><circle cx="217.2" cy="92.2" r="1.35"/><circle cx="216.4" cy="83.5" r="1.35"/><circle cx="216.4" cy="73.9" r="1.35"/><circle cx="216.5" cy="60.8" r="1.35"/><circle cx="215.7" cy="76" r="1.35"/><circle cx="215.9" cy="48.3" r="1.35"/><circle cx="217.3" cy="86.5" r="1.35"/><circle cx="217.3" cy="105.4" r="1.35"/><circle cx="216.7" cy="72.6" r="1.35"/><circle cx="215.8" cy="75.7" r="1.35"/><circle cx="216.8" cy="101.1" r="1.35"/><circle cx="215.7" cy="74.4" r="1.35"/><circle cx="215.7" cy="66.6" r="1.35"/><circle cx="217.1" cy="106" r="1.35"/><circle cx="217.3" cy="49.6" r="1.35"/><circle cx="216.7" cy="86.3" r="1.35"/><circle cx="216.8" cy="70.7" r="1.35"/><circle cx="216.9" cy="81.6" r="1.35"/><circle cx="216.6" cy="62.8" r="1.35"/><circle cx="215.6" cy="67.3" r="1.35"/><circle cx="216.9" cy="45.4" r="1.35"/><circle cx="216.1" cy="99" r="1.35"/><circle cx="216" cy="53" r="1.35"/><circle cx="216.5" cy="99.3" r="1.35"/><circle cx="216.5" cy="86.1" r="1.35"/><circle cx="216.2" cy="124.9" r="1.35"/><circle cx="216.3" cy="145.8" r="1.35"/><circle cx="216.3" cy="120.2" r="1.35"/><circle cx="217.4" cy="110.6" r="1.35"/><circle cx="217.6" cy="107.6" r="1.35"/><circle cx="215.9" cy="144.3" r="1.35"/><circle cx="215.7" cy="139.6" r="1.35"/><circle cx="216.6" cy="131.6" r="1.35"/><circle cx="216.7" cy="126" r="1.35"/><circle cx="215.9" cy="114.9" r="1.35"/><circle cx="218.3" cy="133.3" r="1.35"/><circle cx="218.2" cy="146.3" r="1.35"/><circle cx="217.3" cy="132.3" r="1.35"/><circle cx="227.1" cy="95.3" r="1.35"/><circle cx="225.6" cy="41.3" r="1.35"/><circle cx="226.9" cy="77.5" r="1.35"/><circle cx="227.4" cy="106.4" r="1.35"/><circle cx="227.8" cy="77.9" r="1.35"/><circle cx="226.9" cy="61.1" r="1.35"/><circle cx="228.1" cy="92.8" r="1.35"/><circle cx="228.6" cy="62.5" r="1.35"/><circle cx="226.3" cy="90.5" r="1.35"/><circle cx="228" cy="71.6" r="1.35"/><circle cx="227.7" cy="50.5" r="1.35"/><circle cx="227.7" cy="97.6" r="1.35"/><circle cx="226.2" cy="64.5" r="1.35"/><circle cx="227.4" cy="64.8" r="1.35"/><circle cx="228.4" cy="81.8" r="1.35"/><circle cx="229.4" cy="47.6" r="1.35"/><circle cx="227.1" cy="82.3" r="1.35"/><circle cx="226.3" cy="93.5" r="1.35"/><circle cx="226.1" cy="107.8" r="1.35"/><circle cx="226.3" cy="67.5" r="1.35"/><circle cx="226.9" cy="67.8" r="1.35"/><circle cx="226.8" cy="64.6" r="1.35"/><circle cx="226.9" cy="63.6" r="1.35"/><circle cx="226.8" cy="99" r="1.35"/><circle cx="227.8" cy="98.8" r="1.35"/><circle cx="226.2" cy="66" r="1.35"/><circle cx="227" cy="61" r="1.35"/><circle cx="226.9" cy="45.6" r="1.35"/><circle cx="228" cy="60.1" r="1.35"/><circle cx="225.6" cy="65.5" r="1.35"/><circle cx="227.8" cy="84.1" r="1.35"/><circle cx="227.7" cy="102.3" r="1.35"/><circle cx="228" cy="92.8" r="1.35"/><circle cx="227.7" cy="54.6" r="1.35"/><circle cx="228" cy="72.3" r="1.35"/><circle cx="226.9" cy="52.8" r="1.35"/><circle cx="227.2" cy="58.3" r="1.35"/><circle cx="228.3" cy="90.6" r="1.35"/><circle cx="228.6" cy="95.9" r="1.35"/><circle cx="227.6" cy="61.8" r="1.35"/><circle cx="227.6" cy="43.9" r="1.35"/><circle cx="227.8" cy="95.1" r="1.35"/><circle cx="227.3" cy="70.9" r="1.35"/><circle cx="227.3" cy="81.3" r="1.35"/><circle cx="227.3" cy="68.5" r="1.35"/><circle cx="227.6" cy="63.7" r="1.35"/><circle cx="228.2" cy="104.5" r="1.35"/><circle cx="227.3" cy="100.6" r="1.35"/><circle cx="227" cy="96.2" r="1.35"/><circle cx="227.2" cy="44.9" r="1.35"/><circle cx="227.1" cy="45" r="1.35"/><circle cx="227.3" cy="67.8" r="1.35"/><circle cx="228.9" cy="79.8" r="1.35"/><circle cx="229.4" cy="102.6" r="1.35"/><circle cx="228.8" cy="84.6" r="1.35"/><circle cx="227" cy="72.3" r="1.35"/><circle cx="227.6" cy="49.7" r="1.35"/><circle cx="226.2" cy="76.4" r="1.35"/><circle cx="226.5" cy="89.5" r="1.35"/><circle cx="227.9" cy="87.7" r="1.35"/><circle cx="226.1" cy="97.5" r="1.35"/><circle cx="226.8" cy="45" r="1.35"/><circle cx="227.6" cy="49.9" r="1.35"/><circle cx="227.6" cy="107.1" r="1.35"/><circle cx="227.1" cy="71.7" r="1.35"/><circle cx="228.3" cy="78.8" r="1.35"/><circle cx="227.1" cy="62.1" r="1.35"/><circle cx="228.9" cy="98.9" r="1.35"/><circle cx="227.4" cy="77.6" r="1.35"/><circle cx="227.4" cy="45.1" r="1.35"/><circle cx="227.7" cy="57.5" r="1.35"/><circle cx="227.2" cy="93.4" r="1.35"/><circle cx="226.4" cy="68" r="1.35"/><circle cx="226.7" cy="75.7" r="1.35"/><circle cx="227.7" cy="56.8" r="1.35"/><circle cx="228.3" cy="86.8" r="1.35"/><circle cx="227.8" cy="52.5" r="1.35"/><circle cx="227.7" cy="76.6" r="1.35"/><circle cx="227.4" cy="109.1" r="1.35"/><circle cx="227.4" cy="98.2" r="1.35"/><circle cx="227.1" cy="97.5" r="1.35"/><circle cx="227.8" cy="108.3" r="1.35"/><circle cx="228" cy="97" r="1.35"/><circle cx="228.7" cy="105.5" r="1.35"/><circle cx="227.5" cy="50.2" r="1.35"/><circle cx="227.8" cy="55" r="1.35"/><circle cx="228.9" cy="72.3" r="1.35"/><circle cx="226.3" cy="47.5" r="1.35"/><circle cx="227" cy="84.8" r="1.35"/><circle cx="227.9" cy="90" r="1.35"/><circle cx="227.6" cy="71.1" r="1.35"/><circle cx="226.5" cy="71.9" r="1.35"/><circle cx="226.8" cy="87.5" r="1.35"/><circle cx="228.1" cy="89.3" r="1.35"/><circle cx="226.9" cy="48.8" r="1.35"/><circle cx="228.4" cy="41.6" r="1.35"/><circle cx="226.8" cy="40.7" r="1.35"/><circle cx="227.9" cy="124.5" r="1.35"/><circle cx="228.9" cy="111" r="1.35"/><circle cx="226.8" cy="120.8" r="1.35"/><circle cx="226.9" cy="114.7" r="1.35"/><circle cx="228" cy="130.1" r="1.35"/><circle cx="227.9" cy="116" r="1.35"/><circle cx="226.7" cy="113.6" r="1.35"/><circle cx="228.9" cy="117.9" r="1.35"/><circle cx="227.6" cy="134.7" r="1.35"/><circle cx="238.8" cy="40.8" r="1.35"/><circle cx="238.6" cy="46.2" r="1.35"/><circle cx="238.3" cy="42.4" r="1.35"/><circle cx="237.6" cy="41.3" r="1.35"/><circle cx="236.9" cy="40.2" r="1.35"/><circle cx="238.6" cy="46.7" r="1.35"/><circle cx="236.6" cy="120.3" r="1.35"/><circle cx="237.1" cy="62" r="1.35"/><circle cx="238.9" cy="110.2" r="1.35"/><circle cx="238.3" cy="58.2" r="1.35"/><circle cx="238" cy="112.8" r="1.35"/><circle cx="239.2" cy="100.7" r="1.35"/><circle cx="238.9" cy="114.8" r="1.35"/><circle cx="240.1" cy="87.8" r="1.35"/><circle cx="239" cy="71.2" r="1.35"/><circle cx="238.6" cy="80.8" r="1.35"/><circle cx="239.4" cy="111.3" r="1.35"/><circle cx="237.9" cy="54.4" r="1.35"/><circle cx="238.4" cy="74.9" r="1.35"/><circle cx="239.7" cy="66.3" r="1.35"/><circle cx="238.6" cy="80.3" r="1.35"/><circle cx="238.5" cy="90.5" r="1.35"/><circle cx="237.5" cy="71.1" r="1.35"/><circle cx="239" cy="50.3" r="1.35"/><circle cx="238" cy="86.3" r="1.35"/><circle cx="237.7" cy="77.7" r="1.35"/><circle cx="238.3" cy="71.5" r="1.35"/><circle cx="238.6" cy="71.6" r="1.35"/><circle cx="238.5" cy="85.5" r="1.35"/><circle cx="238.5" cy="50.5" r="1.35"/><circle cx="238.9" cy="82.7" r="1.35"/><circle cx="237.8" cy="88.9" r="1.35"/><circle cx="238.7" cy="108.7" r="1.35"/><circle cx="238.4" cy="91.3" r="1.35"/><circle cx="237.6" cy="106.1" r="1.35"/><circle cx="238.4" cy="87.2" r="1.35"/><circle cx="238.8" cy="116.9" r="1.35"/><circle cx="236.8" cy="104.2" r="1.35"/><circle cx="237.9" cy="89.5" r="1.35"/><circle cx="237.5" cy="93" r="1.35"/><circle cx="236.8" cy="114.2" r="1.35"/><circle cx="238.1" cy="53" r="1.35"/><circle cx="238.4" cy="94.5" r="1.35"/><circle cx="237.2" cy="118" r="1.35"/><circle cx="239.3" cy="77.5" r="1.35"/><circle cx="238.6" cy="121.1" r="1.35"/><circle cx="238.9" cy="60" r="1.35"/><circle cx="239.3" cy="106.3" r="1.35"/><circle cx="237" cy="72.3" r="1.35"/><circle cx="238.4" cy="116.1" r="1.35"/><circle cx="239" cy="104.7" r="1.35"/><circle cx="238.4" cy="115.8" r="1.35"/><circle cx="238.5" cy="55.2" r="1.35"/><circle cx="237.7" cy="102.9" r="1.35"/><circle cx="238.3" cy="120" r="1.35"/><circle cx="238" cy="89.1" r="1.35"/><circle cx="239.3" cy="74.7" r="1.35"/><circle cx="238.5" cy="56.9" r="1.35"/><circle cx="239.8" cy="58.4" r="1.35"/><circle cx="237" cy="82.9" r="1.35"/><circle cx="238.2" cy="57.3" r="1.35"/><circle cx="239.6" cy="74.3" r="1.35"/><circle cx="237.5" cy="82.1" r="1.35"/><circle cx="238.9" cy="94.3" r="1.35"/><circle cx="240.2" cy="118" r="1.35"/><circle cx="237.6" cy="112" r="1.35"/><circle cx="238.4" cy="83.9" r="1.35"/><circle cx="239" cy="97.9" r="1.35"/><circle cx="237.7" cy="124.4" r="1.35"/><circle cx="237.9" cy="72.7" r="1.35"/><circle cx="238.7" cy="64.9" r="1.35"/><circle cx="238.4" cy="104.5" r="1.35"/><circle cx="238.5" cy="67" r="1.35"/><circle cx="238.1" cy="67.4" r="1.35"/><circle cx="238.8" cy="69" r="1.35"/><circle cx="236.6" cy="56.8" r="1.35"/><circle cx="240.3" cy="103.5" r="1.35"/><circle cx="237.9" cy="84.9" r="1.35"/><circle cx="238.3" cy="87.7" r="1.35"/><circle cx="236.9" cy="69.6" r="1.35"/><circle cx="237.1" cy="73.6" r="1.35"/><circle cx="238.1" cy="97.6" r="1.35"/><circle cx="239.7" cy="65.1" r="1.35"/><circle cx="240.1" cy="66.2" r="1.35"/><circle cx="240.3" cy="119.3" r="1.35"/><circle cx="237.8" cy="112.9" r="1.35"/><circle cx="239.3" cy="92.1" r="1.35"/><circle cx="237.1" cy="54.6" r="1.35"/><circle cx="238.2" cy="112.7" r="1.35"/><circle cx="236.7" cy="52.3" r="1.35"/><circle cx="239.6" cy="86.1" r="1.35"/><circle cx="238.9" cy="116.9" r="1.35"/><circle cx="239.3" cy="100.3" r="1.35"/><circle cx="238.3" cy="135.6" r="1.35"/><circle cx="237.5" cy="126" r="1.35"/><circle cx="239.2" cy="138.8" r="1.35"/><circle cx="238.1" cy="132.1" r="1.35"/><circle cx="247.8" cy="40.1" r="1.35"/><circle cx="248.8" cy="36.6" r="1.35"/><circle cx="248.3" cy="35.5" r="1.35"/><circle cx="248.8" cy="37.8" r="1.35"/><circle cx="249.7" cy="37.8" r="1.35"/><circle cx="248.6" cy="82.5" r="1.35"/><circle cx="247.5" cy="46.9" r="1.35"/><circle cx="250.1" cy="85.5" r="1.35"/><circle cx="248.4" cy="79.1" r="1.35"/><circle cx="248.8" cy="49.7" r="1.35"/><circle cx="249.9" cy="81.8" r="1.35"/><circle cx="250.5" cy="95.2" r="1.35"/><circle cx="249.7" cy="82" r="1.35"/><circle cx="248.1" cy="97.8" r="1.35"/><circle cx="248.3" cy="89.8" r="1.35"/><circle cx="250.2" cy="46.6" r="1.35"/><circle cx="249.2" cy="79.1" r="1.35"/><circle cx="248.2" cy="79" r="1.35"/><circle cx="248" cy="65.5" r="1.35"/><circle cx="250.9" cy="79.7" r="1.35"/><circle cx="249.3" cy="99.2" r="1.35"/><circle cx="247.9" cy="87.7" r="1.35"/><circle cx="248.4" cy="99.5" r="1.35"/><circle cx="247.5" cy="67.3" r="1.35"/><circle cx="249.7" cy="46.4" r="1.35"/><circle cx="248.9" cy="99.6" r="1.35"/><circle cx="250" cy="67.2" r="1.35"/><circle cx="249.1" cy="51.1" r="1.35"/><circle cx="250.6" cy="62.4" r="1.35"/><circle cx="248.9" cy="78.2" r="1.35"/><circle cx="249.5" cy="68.7" r="1.35"/><circle cx="249.5" cy="98.8" r="1.35"/><circle cx="248.5" cy="56.4" r="1.35"/><circle cx="248.7" cy="46.6" r="1.35"/><circle cx="249.2" cy="62.1" r="1.35"/><circle cx="249.8" cy="72.3" r="1.35"/><circle cx="248.8" cy="74.2" r="1.35"/><circle cx="249.2" cy="49.3" r="1.35"/><circle cx="250.3" cy="64.7" r="1.35"/><circle cx="248.9" cy="87.5" r="1.35"/><circle cx="250.8" cy="83.8" r="1.35"/><circle cx="247.9" cy="86" r="1.35"/><circle cx="248.3" cy="48.8" r="1.35"/><circle cx="250.2" cy="91.3" r="1.35"/><circle cx="250.3" cy="99.4" r="1.35"/><circle cx="249.4" cy="76.5" r="1.35"/><circle cx="248.8" cy="79.6" r="1.35"/><circle cx="248.9" cy="98.3" r="1.35"/><circle cx="249" cy="73.5" r="1.35"/><circle cx="249" cy="66.7" r="1.35"/><circle cx="251.3" cy="49.6" r="1.35"/><circle cx="249" cy="57.6" r="1.35"/><circle cx="248.7" cy="62.2" r="1.35"/><circle cx="248.7" cy="81.8" r="1.35"/><circle cx="248.8" cy="94.9" r="1.35"/><circle cx="251.1" cy="95.7" r="1.35"/><circle cx="249.2" cy="59.5" r="1.35"/><circle cx="249.4" cy="77.3" r="1.35"/><circle cx="248.9" cy="49.9" r="1.35"/><circle cx="251" cy="52.7" r="1.35"/><circle cx="250.5" cy="84.7" r="1.35"/><circle cx="249.2" cy="88.8" r="1.35"/><circle cx="249.3" cy="49.1" r="1.35"/><circle cx="250.5" cy="72.7" r="1.35"/><circle cx="248.2" cy="70" r="1.35"/><circle cx="250.6" cy="47.9" r="1.35"/><circle cx="249.5" cy="74.3" r="1.35"/><circle cx="249.1" cy="127.1" r="1.35"/><circle cx="248.9" cy="126.4" r="1.35"/><circle cx="248.6" cy="121.7" r="1.35"/><circle cx="250.6" cy="115.5" r="1.35"/><circle cx="248.6" cy="110.8" r="1.35"/><circle cx="249.2" cy="133.4" r="1.35"/><circle cx="248.4" cy="113.8" r="1.35"/><circle cx="250.5" cy="107.1" r="1.35"/><circle cx="251.3" cy="128.2" r="1.35"/><circle cx="249.3" cy="136.9" r="1.35"/><circle cx="249" cy="106.1" r="1.35"/><circle cx="249.1" cy="101.8" r="1.35"/><circle cx="248.4" cy="135.9" r="1.35"/><circle cx="248.5" cy="111.1" r="1.35"/><circle cx="249.3" cy="105.5" r="1.35"/><circle cx="260.8" cy="41.6" r="1.35"/><circle cx="259.5" cy="48.3" r="1.35"/><circle cx="260.6" cy="39" r="1.35"/><circle cx="260.7" cy="35.9" r="1.35"/><circle cx="259.3" cy="34.9" r="1.35"/><circle cx="258.9" cy="35.2" r="1.35"/><circle cx="259.1" cy="44.7" r="1.35"/><circle cx="260.3" cy="46.6" r="1.35"/><circle cx="261.5" cy="62.7" r="1.35"/><circle cx="261.4" cy="100.3" r="1.35"/><circle cx="262.1" cy="100.7" r="1.35"/><circle cx="259.9" cy="69.7" r="1.35"/><circle cx="260.1" cy="100" r="1.35"/><circle cx="260.9" cy="51.4" r="1.35"/><circle cx="260.5" cy="98.3" r="1.35"/><circle cx="260" cy="68.9" r="1.35"/><circle cx="260.5" cy="60.4" r="1.35"/><circle cx="259.1" cy="85.8" r="1.35"/><circle cx="260.7" cy="54.4" r="1.35"/><circle cx="259.9" cy="73.7" r="1.35"/><circle cx="260.1" cy="94.2" r="1.35"/><circle cx="260.1" cy="62.7" r="1.35"/><circle cx="261.8" cy="71" r="1.35"/><circle cx="260.2" cy="80" r="1.35"/><circle cx="260.1" cy="79" r="1.35"/><circle cx="259.8" cy="87.9" r="1.35"/><circle cx="258.2" cy="61.5" r="1.35"/><circle cx="260.5" cy="64.8" r="1.35"/><circle cx="261.1" cy="80" r="1.35"/><circle cx="261.3" cy="72.3" r="1.35"/><circle cx="260.9" cy="51.8" r="1.35"/><circle cx="261.6" cy="96.6" r="1.35"/><circle cx="261.6" cy="98.3" r="1.35"/><circle cx="258.3" cy="58.5" r="1.35"/><circle cx="261.8" cy="89.7" r="1.35"/><circle cx="260.7" cy="49.2" r="1.35"/><circle cx="260" cy="56.1" r="1.35"/><circle cx="261.5" cy="82.9" r="1.35"/><circle cx="261" cy="75.7" r="1.35"/><circle cx="261.1" cy="56.7" r="1.35"/><circle cx="261" cy="56.5" r="1.35"/><circle cx="259.2" cy="93.8" r="1.35"/><circle cx="259.5" cy="95.3" r="1.35"/><circle cx="260.7" cy="57.1" r="1.35"/><circle cx="260.8" cy="76.5" r="1.35"/><circle cx="261.9" cy="87.2" r="1.35"/><circle cx="260.5" cy="94.3" r="1.35"/><circle cx="258.3" cy="95.8" r="1.35"/><circle cx="260.3" cy="95.4" r="1.35"/><circle cx="260.4" cy="68.3" r="1.35"/><circle cx="259.6" cy="52.2" r="1.35"/><circle cx="260.3" cy="104.2" r="1.35"/><circle cx="259.2" cy="65.2" r="1.35"/><circle cx="258.7" cy="103.3" r="1.35"/><circle cx="260.9" cy="91.4" r="1.35"/><circle cx="261.6" cy="64.2" r="1.35"/><circle cx="258.9" cy="83.5" r="1.35"/><circle cx="261.4" cy="102.3" r="1.35"/><circle cx="260.7" cy="77.3" r="1.35"/><circle cx="260.9" cy="52.7" r="1.35"/><circle cx="261.1" cy="74.8" r="1.35"/><circle cx="261" cy="94.8" r="1.35"/><circle cx="260.6" cy="90.4" r="1.35"/><circle cx="260.8" cy="73.7" r="1.35"/><circle cx="259.5" cy="52.1" r="1.35"/><circle cx="260.5" cy="71.8" r="1.35"/><circle cx="259.1" cy="57.1" r="1.35"/><circle cx="259.9" cy="55.7" r="1.35"/><circle cx="260.3" cy="53.4" r="1.35"/><circle cx="261.2" cy="123.3" r="1.35"/><circle cx="261.4" cy="131.1" r="1.35"/><circle cx="259.7" cy="113.3" r="1.35"/><circle cx="260" cy="130.3" r="1.35"/><circle cx="259.1" cy="124" r="1.35"/><circle cx="259.6" cy="106.4" r="1.35"/><circle cx="260.5" cy="130.4" r="1.35"/><circle cx="261.1" cy="133.4" r="1.35"/><circle cx="259.7" cy="106.4" r="1.35"/><circle cx="270.8" cy="37" r="1.35"/><circle cx="271.7" cy="35.2" r="1.35"/><circle cx="270.9" cy="33.6" r="1.35"/><circle cx="272.7" cy="40.9" r="1.35"/><circle cx="271.4" cy="42.9" r="1.35"/><circle cx="270.6" cy="77" r="1.35"/><circle cx="270.8" cy="94" r="1.35"/><circle cx="271.1" cy="76.6" r="1.35"/><circle cx="270.4" cy="58.5" r="1.35"/><circle cx="271.2" cy="91.6" r="1.35"/><circle cx="270.5" cy="80.7" r="1.35"/><circle cx="271.7" cy="96.4" r="1.35"/><circle cx="270.6" cy="75.2" r="1.35"/><circle cx="271.1" cy="59.7" r="1.35"/><circle cx="272.4" cy="48.5" r="1.35"/><circle cx="272.3" cy="55.8" r="1.35"/><circle cx="271.4" cy="47.7" r="1.35"/><circle cx="271.2" cy="85" r="1.35"/><circle cx="270.7" cy="57.6" r="1.35"/><circle cx="269.8" cy="89.2" r="1.35"/><circle cx="272.6" cy="89.6" r="1.35"/><circle cx="272.3" cy="95.3" r="1.35"/><circle cx="271" cy="77.5" r="1.35"/><circle cx="270.5" cy="63.6" r="1.35"/><circle cx="270.8" cy="74.5" r="1.35"/><circle cx="271.2" cy="91.2" r="1.35"/><circle cx="272.4" cy="83.1" r="1.35"/><circle cx="271.2" cy="62.9" r="1.35"/><circle cx="271.3" cy="66.7" r="1.35"/><circle cx="271.7" cy="71.5" r="1.35"/><circle cx="270.3" cy="76.5" r="1.35"/><circle cx="269.9" cy="73.8" r="1.35"/><circle cx="270.7" cy="73.5" r="1.35"/><circle cx="271.2" cy="67.1" r="1.35"/><circle cx="271.6" cy="92.5" r="1.35"/><circle cx="271.8" cy="74.8" r="1.35"/><circle cx="270.9" cy="71.5" r="1.35"/><circle cx="270.6" cy="87" r="1.35"/><circle cx="271.3" cy="46.9" r="1.35"/><circle cx="271.2" cy="53.6" r="1.35"/><circle cx="271.8" cy="53" r="1.35"/><circle cx="272" cy="51.8" r="1.35"/><circle cx="271.6" cy="78.6" r="1.35"/><circle cx="270.2" cy="69.4" r="1.35"/><circle cx="270.4" cy="76.9" r="1.35"/><circle cx="270.9" cy="81.2" r="1.35"/><circle cx="272" cy="54.3" r="1.35"/><circle cx="271" cy="97.6" r="1.35"/><circle cx="270" cy="77.1" r="1.35"/><circle cx="269.7" cy="58.4" r="1.35"/><circle cx="270.7" cy="63.2" r="1.35"/><circle cx="269.9" cy="83" r="1.35"/><circle cx="271.7" cy="52.6" r="1.35"/><circle cx="273.1" cy="70.2" r="1.35"/><circle cx="270.4" cy="98.7" r="1.35"/><circle cx="270.5" cy="47" r="1.35"/><circle cx="270.6" cy="43" r="1.35"/><circle cx="270" cy="77.1" r="1.35"/><circle cx="270.4" cy="86.6" r="1.35"/><circle cx="269.8" cy="76.4" r="1.35"/><circle cx="271.7" cy="78.1" r="1.35"/><circle cx="269.9" cy="73.9" r="1.35"/><circle cx="270.8" cy="47.2" r="1.35"/><circle cx="270.5" cy="66.4" r="1.35"/><circle cx="270" cy="97.3" r="1.35"/><circle cx="270.6" cy="71.1" r="1.35"/><circle cx="271.2" cy="62.4" r="1.35"/><circle cx="272" cy="52.1" r="1.35"/><circle cx="272.7" cy="82.6" r="1.35"/><circle cx="271.6" cy="98.8" r="1.35"/><circle cx="272" cy="47.1" r="1.35"/><circle cx="271.2" cy="97.7" r="1.35"/><circle cx="271.1" cy="93.8" r="1.35"/><circle cx="270.5" cy="104.6" r="1.35"/><circle cx="270.4" cy="111.2" r="1.35"/><circle cx="269.5" cy="102.9" r="1.35"/><circle cx="271.8" cy="117.5" r="1.35"/><circle cx="270.1" cy="126.2" r="1.35"/><circle cx="271.3" cy="119.6" r="1.35"/><circle cx="270.2" cy="119.6" r="1.35"/><circle cx="273" cy="108.3" r="1.35"/><circle cx="269.5" cy="100.6" r="1.35"/><circle cx="270.6" cy="121.2" r="1.35"/><circle cx="281.9" cy="34.6" r="1.35"/><circle cx="282.6" cy="36.3" r="1.35"/><circle cx="281" cy="34.9" r="1.35"/><circle cx="282.6" cy="37.8" r="1.35"/><circle cx="282.5" cy="51.7" r="1.35"/><circle cx="280.6" cy="85" r="1.35"/><circle cx="281.3" cy="52.5" r="1.35"/><circle cx="281.8" cy="73.1" r="1.35"/><circle cx="280.9" cy="52.5" r="1.35"/><circle cx="282.6" cy="79.7" r="1.35"/><circle cx="281.9" cy="60.7" r="1.35"/><circle cx="283.8" cy="59" r="1.35"/><circle cx="281.2" cy="65.7" r="1.35"/><circle cx="281.6" cy="66.2" r="1.35"/><circle cx="283.4" cy="45.2" r="1.35"/><circle cx="281.6" cy="85.5" r="1.35"/><circle cx="282.3" cy="77.8" r="1.35"/><circle cx="282.1" cy="53.4" r="1.35"/><circle cx="282.6" cy="63.3" r="1.35"/><circle cx="282.2" cy="79" r="1.35"/><circle cx="282.6" cy="41.6" r="1.35"/><circle cx="282.1" cy="43.4" r="1.35"/><circle cx="281.7" cy="84.6" r="1.35"/><circle cx="283" cy="70.2" r="1.35"/><circle cx="282.8" cy="82" r="1.35"/><circle cx="281.2" cy="71.3" r="1.35"/><circle cx="282.1" cy="62.6" r="1.35"/><circle cx="282.9" cy="45.9" r="1.35"/><circle cx="282.9" cy="50" r="1.35"/><circle cx="281.6" cy="63.1" r="1.35"/><circle cx="282.3" cy="67.4" r="1.35"/><circle cx="281.4" cy="45.1" r="1.35"/><circle cx="282.1" cy="63.7" r="1.35"/><circle cx="282.6" cy="71.9" r="1.35"/><circle cx="282.2" cy="67.4" r="1.35"/><circle cx="283.4" cy="74.8" r="1.35"/><circle cx="282.8" cy="85.8" r="1.35"/><circle cx="282" cy="61.5" r="1.35"/><circle cx="281.5" cy="44.8" r="1.35"/><circle cx="282" cy="70" r="1.35"/><circle cx="282.2" cy="44.8" r="1.35"/><circle cx="282.2" cy="65.4" r="1.35"/><circle cx="282.3" cy="75.5" r="1.35"/><circle cx="282.7" cy="61.1" r="1.35"/><circle cx="282.8" cy="85.8" r="1.35"/><circle cx="283.1" cy="69" r="1.35"/><circle cx="281.1" cy="72.6" r="1.35"/><circle cx="282.4" cy="78.7" r="1.35"/><circle cx="282.2" cy="76.1" r="1.35"/><circle cx="281.4" cy="45.7" r="1.35"/><circle cx="282.8" cy="49.3" r="1.35"/><circle cx="282.8" cy="66.3" r="1.35"/><circle cx="281.6" cy="60.5" r="1.35"/><circle cx="284.1" cy="77.7" r="1.35"/><circle cx="282.9" cy="75.6" r="1.35"/><circle cx="281.7" cy="63.2" r="1.35"/><circle cx="281.7" cy="70.6" r="1.35"/><circle cx="282.3" cy="82.5" r="1.35"/><circle cx="281.6" cy="102.3" r="1.35"/><circle cx="283" cy="103.9" r="1.35"/><circle cx="282.1" cy="108.1" r="1.35"/><circle cx="282" cy="109.5" r="1.35"/><circle cx="282.9" cy="97.6" r="1.35"/><circle cx="283.2" cy="104.5" r="1.35"/><circle cx="282.1" cy="105.8" r="1.35"/><circle cx="283.2" cy="117.4" r="1.35"/><circle cx="280.7" cy="111.3" r="1.35"/><circle cx="282.7" cy="90.8" r="1.35"/><circle cx="281.4" cy="99.7" r="1.35"/><circle cx="282.1" cy="129.5" r="1.35"/><circle cx="280.7" cy="93.2" r="1.35"/><circle cx="282.2" cy="114.9" r="1.35"/><circle cx="282.5" cy="91.8" r="1.35"/><circle cx="282.5" cy="87.1" r="1.35"/><circle cx="283.9" cy="102.9" r="1.35"/><circle cx="280.9" cy="86.6" r="1.35"/><circle cx="281.9" cy="88.1" r="1.35"/><circle cx="280.8" cy="121.2" r="1.35"/><circle cx="293.2" cy="42.7" r="1.35"/><circle cx="294.5" cy="35.3" r="1.35"/><circle cx="291.5" cy="40.5" r="1.35"/><circle cx="292.9" cy="39.4" r="1.35"/><circle cx="293.1" cy="34.6" r="1.35"/><circle cx="293.3" cy="39.3" r="1.35"/><circle cx="292.2" cy="40.9" r="1.35"/><circle cx="292.5" cy="92.5" r="1.35"/><circle cx="291.6" cy="84.3" r="1.35"/><circle cx="293.9" cy="109.4" r="1.35"/><circle cx="294.6" cy="101.6" r="1.35"/><circle cx="292.9" cy="95.7" r="1.35"/><circle cx="292.4" cy="53.4" r="1.35"/><circle cx="292.8" cy="93.6" r="1.35"/><circle cx="293" cy="85.6" r="1.35"/><circle cx="294.2" cy="89.7" r="1.35"/><circle cx="292.4" cy="67.9" r="1.35"/><circle cx="293.3" cy="96.2" r="1.35"/><circle cx="293.6" cy="68.6" r="1.35"/><circle cx="292.5" cy="78.2" r="1.35"/><circle cx="291.9" cy="100.4" r="1.35"/><circle cx="293.5" cy="101.3" r="1.35"/><circle cx="293.5" cy="116" r="1.35"/><circle cx="291.7" cy="78.3" r="1.35"/><circle cx="291.8" cy="68.6" r="1.35"/><circle cx="293.4" cy="105.7" r="1.35"/><circle cx="292.1" cy="83.4" r="1.35"/><circle cx="293.5" cy="72.2" r="1.35"/><circle cx="293.7" cy="80.3" r="1.35"/><circle cx="293" cy="114.5" r="1.35"/><circle cx="294.2" cy="116" r="1.35"/><circle cx="294.4" cy="103" r="1.35"/><circle cx="293" cy="109.4" r="1.35"/><circle cx="293.2" cy="50.9" r="1.35"/><circle cx="292.4" cy="94.5" r="1.35"/><circle cx="294.9" cy="105.3" r="1.35"/><circle cx="293.3" cy="82.3" r="1.35"/><circle cx="292.5" cy="52.8" r="1.35"/><circle cx="292.3" cy="104.8" r="1.35"/><circle cx="293.7" cy="66.8" r="1.35"/><circle cx="292.8" cy="64.5" r="1.35"/><circle cx="292.6" cy="50.2" r="1.35"/><circle cx="292" cy="97.3" r="1.35"/><circle cx="292.4" cy="76.2" r="1.35"/><circle cx="294.3" cy="86.9" r="1.35"/><circle cx="292.5" cy="108.9" r="1.35"/><circle cx="293.3" cy="85.7" r="1.35"/><circle cx="293.6" cy="89.2" r="1.35"/><circle cx="294.2" cy="49.4" r="1.35"/><circle cx="292.6" cy="114" r="1.35"/><circle cx="292.4" cy="100.9" r="1.35"/><circle cx="293.1" cy="91.2" r="1.35"/><circle cx="293.7" cy="64.4" r="1.35"/><circle cx="292.1" cy="79.9" r="1.35"/><circle cx="292.2" cy="87.8" r="1.35"/><circle cx="293.2" cy="56.7" r="1.35"/><circle cx="293" cy="48" r="1.35"/><circle cx="293.4" cy="83.8" r="1.35"/><circle cx="292.9" cy="111" r="1.35"/><circle cx="292.1" cy="89.8" r="1.35"/><circle cx="292.6" cy="110.7" r="1.35"/><circle cx="292.4" cy="71.1" r="1.35"/><circle cx="293.4" cy="114.5" r="1.35"/><circle cx="292.5" cy="95.2" r="1.35"/><circle cx="293.6" cy="57.2" r="1.35"/><circle cx="294.2" cy="73.7" r="1.35"/><circle cx="292.4" cy="72.1" r="1.35"/><circle cx="293.5" cy="57.6" r="1.35"/><circle cx="294.3" cy="122.2" r="1.35"/><circle cx="293.8" cy="126.5" r="1.35"/><circle cx="291" cy="128.5" r="1.35"/><circle cx="294" cy="126.4" r="1.35"/><circle cx="305.6" cy="41.2" r="1.35"/><circle cx="302.9" cy="45.4" r="1.35"/><circle cx="304.7" cy="39.2" r="1.35"/><circle cx="304.3" cy="46.1" r="1.35"/><circle cx="305.3" cy="33.2" r="1.35"/><circle cx="304" cy="41.4" r="1.35"/><circle cx="302.3" cy="46.3" r="1.35"/><circle cx="304.1" cy="34.9" r="1.35"/><circle cx="303.6" cy="46" r="1.35"/><circle cx="303.4" cy="41.2" r="1.35"/><circle cx="304.8" cy="37.9" r="1.35"/><circle cx="303.7" cy="103.8" r="1.35"/><circle cx="303.6" cy="82.3" r="1.35"/><circle cx="304.4" cy="89.2" r="1.35"/><circle cx="304.2" cy="71.8" r="1.35"/><circle cx="303.8" cy="91.9" r="1.35"/><circle cx="302.6" cy="89.4" r="1.35"/><circle cx="304" cy="59.7" r="1.35"/><circle cx="304.4" cy="70.5" r="1.35"/><circle cx="304.1" cy="64.3" r="1.35"/><circle cx="303.8" cy="56.3" r="1.35"/><circle cx="304.3" cy="81.7" r="1.35"/><circle cx="303.9" cy="59.8" r="1.35"/><circle cx="303.4" cy="92.1" r="1.35"/><circle cx="304.3" cy="80" r="1.35"/><circle cx="304.1" cy="70.2" r="1.35"/><circle cx="304.1" cy="81.7" r="1.35"/><circle cx="302.9" cy="74.1" r="1.35"/><circle cx="305.5" cy="74.9" r="1.35"/><circle cx="304.2" cy="97.2" r="1.35"/><circle cx="304.6" cy="82.5" r="1.35"/><circle cx="304.5" cy="62.9" r="1.35"/><circle cx="305.7" cy="102.9" r="1.35"/><circle cx="304.8" cy="106" r="1.35"/><circle cx="302.6" cy="85.7" r="1.35"/><circle cx="303.5" cy="79.4" r="1.35"/><circle cx="304.5" cy="77.6" r="1.35"/><circle cx="305" cy="89.6" r="1.35"/><circle cx="304.6" cy="60.8" r="1.35"/><circle cx="304.1" cy="93.9" r="1.35"/><circle cx="303.2" cy="94.9" r="1.35"/><circle cx="304" cy="81.6" r="1.35"/><circle cx="303.7" cy="55.1" r="1.35"/><circle cx="304.7" cy="58.1" r="1.35"/><circle cx="305.9" cy="99.8" r="1.35"/><circle cx="304.4" cy="82.8" r="1.35"/><circle cx="304.9" cy="89.8" r="1.35"/><circle cx="303.5" cy="60.3" r="1.35"/><circle cx="302.8" cy="75.9" r="1.35"/><circle cx="304.4" cy="88.3" r="1.35"/><circle cx="303.2" cy="65.6" r="1.35"/><circle cx="305" cy="80" r="1.35"/><circle cx="303" cy="57.8" r="1.35"/><circle cx="304.4" cy="67.4" r="1.35"/><circle cx="303.8" cy="79.3" r="1.35"/><circle cx="303.4" cy="119.9" r="1.35"/><circle cx="303.8" cy="128.1" r="1.35"/><circle cx="302.5" cy="114.8" r="1.35"/><circle cx="302.8" cy="106.6" r="1.35"/><circle cx="304.8" cy="116.7" r="1.35"/><circle cx="303.8" cy="122.7" r="1.35"/><circle cx="305" cy="125.6" r="1.35"/><circle cx="302.6" cy="107.8" r="1.35"/><circle cx="314.8" cy="44.9" r="1.35"/><circle cx="314.1" cy="38.7" r="1.35"/><circle cx="314.2" cy="37.2" r="1.35"/><circle cx="315.1" cy="42.9" r="1.35"/><circle cx="315.4" cy="38.7" r="1.35"/><circle cx="316" cy="43.5" r="1.35"/><circle cx="315.1" cy="40.8" r="1.35"/><circle cx="315.4" cy="75" r="1.35"/><circle cx="314.7" cy="72.2" r="1.35"/><circle cx="315.2" cy="56.6" r="1.35"/><circle cx="315.4" cy="55.6" r="1.35"/><circle cx="316" cy="84" r="1.35"/><circle cx="315.2" cy="60.3" r="1.35"/><circle cx="315.7" cy="72" r="1.35"/><circle cx="314.6" cy="98.9" r="1.35"/><circle cx="314.3" cy="88.6" r="1.35"/><circle cx="314.1" cy="88.2" r="1.35"/><circle cx="314.7" cy="87.7" r="1.35"/><circle cx="315.2" cy="88.6" r="1.35"/><circle cx="314.5" cy="88.4" r="1.35"/><circle cx="314.6" cy="56" r="1.35"/><circle cx="315.2" cy="82.3" r="1.35"/><circle cx="313.7" cy="50.3" r="1.35"/><circle cx="313.9" cy="52.3" r="1.35"/><circle cx="315.9" cy="48.2" r="1.35"/><circle cx="313.4" cy="81.9" r="1.35"/><circle cx="315.7" cy="59.1" r="1.35"/><circle cx="316.3" cy="94" r="1.35"/><circle cx="315.7" cy="86" r="1.35"/><circle cx="315.2" cy="46.6" r="1.35"/><circle cx="316.2" cy="55.8" r="1.35"/><circle cx="313.9" cy="48" r="1.35"/><circle cx="316.8" cy="55.2" r="1.35"/><circle cx="314.7" cy="61.3" r="1.35"/><circle cx="313.4" cy="50.3" r="1.35"/><circle cx="316.2" cy="97.8" r="1.35"/><circle cx="313.1" cy="78.3" r="1.35"/><circle cx="316.1" cy="83" r="1.35"/><circle cx="315.6" cy="93.4" r="1.35"/><circle cx="314.9" cy="101.7" r="1.35"/><circle cx="313.9" cy="72.3" r="1.35"/><circle cx="313.7" cy="90.9" r="1.35"/><circle cx="315.3" cy="79.5" r="1.35"/><circle cx="315.5" cy="97.1" r="1.35"/><circle cx="314.6" cy="96.1" r="1.35"/><circle cx="314.7" cy="80.3" r="1.35"/><circle cx="315" cy="81.3" r="1.35"/><circle cx="315.9" cy="87.3" r="1.35"/><circle cx="314.6" cy="89.3" r="1.35"/><circle cx="315.5" cy="71" r="1.35"/><circle cx="316" cy="58.3" r="1.35"/><circle cx="314.7" cy="87.9" r="1.35"/><circle cx="315.7" cy="77.5" r="1.35"/><circle cx="314.7" cy="90.9" r="1.35"/><circle cx="315.1" cy="89" r="1.35"/><circle cx="315.6" cy="49.6" r="1.35"/><circle cx="313.6" cy="114.8" r="1.35"/><circle cx="314.4" cy="108.2" r="1.35"/><circle cx="316.4" cy="103.4" r="1.35"/><circle cx="314.6" cy="103.7" r="1.35"/><circle cx="314.9" cy="118.4" r="1.35"/><circle cx="314" cy="104.8" r="1.35"/><circle cx="314.2" cy="117.3" r="1.35"/><circle cx="314.1" cy="108.7" r="1.35"/><circle cx="314.8" cy="107" r="1.35"/><circle cx="314" cy="117.9" r="1.35"/><circle cx="325.9" cy="35.8" r="1.35"/><circle cx="325.7" cy="50.7" r="1.35"/><circle cx="327.2" cy="74.9" r="1.35"/><circle cx="325.7" cy="70.9" r="1.35"/><circle cx="324.3" cy="94.5" r="1.35"/><circle cx="327.3" cy="60.2" r="1.35"/><circle cx="325.7" cy="54.5" r="1.35"/><circle cx="325.5" cy="49" r="1.35"/><circle cx="325.5" cy="43.9" r="1.35"/><circle cx="325.3" cy="95.1" r="1.35"/><circle cx="325.1" cy="88" r="1.35"/><circle cx="325" cy="57.9" r="1.35"/><circle cx="325.6" cy="41.2" r="1.35"/><circle cx="327.1" cy="56.5" r="1.35"/><circle cx="326.9" cy="38.5" r="1.35"/><circle cx="326.6" cy="86" r="1.35"/><circle cx="325.7" cy="66.1" r="1.35"/><circle cx="326.1" cy="67.3" r="1.35"/><circle cx="325.7" cy="78.1" r="1.35"/><circle cx="327.7" cy="59" r="1.35"/><circle cx="326.1" cy="80" r="1.35"/><circle cx="326.1" cy="43.4" r="1.35"/><circle cx="325.9" cy="86.9" r="1.35"/><circle cx="327.6" cy="70.9" r="1.35"/><circle cx="325.1" cy="43.7" r="1.35"/><circle cx="326" cy="86.5" r="1.35"/><circle cx="324.8" cy="77.3" r="1.35"/><circle cx="325.3" cy="46.9" r="1.35"/><circle cx="325.6" cy="43.1" r="1.35"/><circle cx="325.1" cy="97.2" r="1.35"/><circle cx="326.1" cy="41" r="1.35"/><circle cx="325.8" cy="44.4" r="1.35"/><circle cx="325.4" cy="95.2" r="1.35"/><circle cx="326" cy="74.3" r="1.35"/><circle cx="326.9" cy="62.8" r="1.35"/><circle cx="325.5" cy="81.1" r="1.35"/><circle cx="326.2" cy="61.1" r="1.35"/><circle cx="324.5" cy="42.7" r="1.35"/><circle cx="324.9" cy="64.2" r="1.35"/><circle cx="324.6" cy="76.5" r="1.35"/><circle cx="327.4" cy="50.2" r="1.35"/><circle cx="325.6" cy="69.9" r="1.35"/><circle cx="325.8" cy="42.3" r="1.35"/><circle cx="326.4" cy="71.4" r="1.35"/><circle cx="326.6" cy="51.2" r="1.35"/><circle cx="325.1" cy="81.6" r="1.35"/><circle cx="325.4" cy="41.2" r="1.35"/><circle cx="325.3" cy="108.1" r="1.35"/><circle cx="326" cy="117.5" r="1.35"/><circle cx="327.3" cy="106.2" r="1.35"/><circle cx="326.8" cy="111.4" r="1.35"/><circle cx="326.6" cy="126.8" r="1.35"/><circle cx="326.2" cy="105.2" r="1.35"/><circle cx="326.3" cy="117.8" r="1.35"/><circle cx="326.7" cy="104" r="1.35"/><circle cx="326" cy="106.7" r="1.35"/><circle cx="326.9" cy="100.8" r="1.35"/><circle cx="337.8" cy="37.6" r="1.35"/><circle cx="335.6" cy="57.2" r="1.35"/><circle cx="335.8" cy="76.8" r="1.35"/><circle cx="336" cy="72.3" r="1.35"/><circle cx="336.8" cy="43.2" r="1.35"/><circle cx="337.3" cy="41.6" r="1.35"/><circle cx="336.4" cy="92.3" r="1.35"/><circle cx="336.5" cy="97.5" r="1.35"/><circle cx="338.1" cy="76.7" r="1.35"/><circle cx="338.5" cy="38.4" r="1.35"/><circle cx="336.1" cy="57.2" r="1.35"/><circle cx="337.3" cy="42.2" r="1.35"/><circle cx="336.7" cy="65.8" r="1.35"/><circle cx="336.9" cy="67.9" r="1.35"/><circle cx="336.9" cy="92.9" r="1.35"/><circle cx="338.6" cy="69" r="1.35"/><circle cx="337" cy="84.7" r="1.35"/><circle cx="336" cy="86.2" r="1.35"/><circle cx="335.9" cy="59.8" r="1.35"/><circle cx="337.8" cy="48.7" r="1.35"/><circle cx="336.4" cy="82.5" r="1.35"/><circle cx="336.9" cy="53.6" r="1.35"/><circle cx="335.2" cy="75.1" r="1.35"/><circle cx="336.7" cy="94.3" r="1.35"/><circle cx="336.5" cy="83.9" r="1.35"/><circle cx="335.4" cy="80.8" r="1.35"/><circle cx="337.7" cy="79" r="1.35"/><circle cx="336.2" cy="72.1" r="1.35"/><circle cx="334.7" cy="56.6" r="1.35"/><circle cx="336.3" cy="49.8" r="1.35"/><circle cx="336" cy="82.3" r="1.35"/><circle cx="336.7" cy="77.4" r="1.35"/><circle cx="337.3" cy="76.4" r="1.35"/><circle cx="336.7" cy="62.6" r="1.35"/><circle cx="336.3" cy="44.9" r="1.35"/><circle cx="335.8" cy="80.8" r="1.35"/><circle cx="337.1" cy="76.2" r="1.35"/><circle cx="336.7" cy="76" r="1.35"/><circle cx="335.9" cy="69.4" r="1.35"/><circle cx="336.1" cy="99.3" r="1.35"/><circle cx="337.3" cy="88.4" r="1.35"/><circle cx="336.1" cy="79.4" r="1.35"/><circle cx="337.7" cy="42.4" r="1.35"/><circle cx="334.7" cy="51.2" r="1.35"/><circle cx="336.9" cy="95.3" r="1.35"/><circle cx="338.3" cy="52" r="1.35"/><circle cx="334.9" cy="82.8" r="1.35"/><circle cx="336.9" cy="74.4" r="1.35"/><circle cx="337" cy="126" r="1.35"/><circle cx="336.5" cy="107.8" r="1.35"/><circle cx="335.6" cy="107.9" r="1.35"/><circle cx="335.8" cy="108.3" r="1.35"/><circle cx="338" cy="126.3" r="1.35"/><circle cx="335.9" cy="102.5" r="1.35"/><circle cx="335.7" cy="125.8" r="1.35"/><circle cx="335.7" cy="119.5" r="1.35"/><circle cx="336.6" cy="104.7" r="1.35"/><circle cx="337.1" cy="107" r="1.35"/><circle cx="347.4" cy="35.3" r="1.35"/><circle cx="348.1" cy="88.5" r="1.35"/><circle cx="348.4" cy="98.8" r="1.35"/><circle cx="348.4" cy="60.4" r="1.35"/><circle cx="346.1" cy="39.5" r="1.35"/><circle cx="347.3" cy="92.1" r="1.35"/><circle cx="347.9" cy="59.3" r="1.35"/><circle cx="346.3" cy="68.5" r="1.35"/><circle cx="347.9" cy="43.1" r="1.35"/><circle cx="347.5" cy="77.7" r="1.35"/><circle cx="348.1" cy="49.7" r="1.35"/><circle cx="347.5" cy="66.5" r="1.35"/><circle cx="347.9" cy="78.9" r="1.35"/><circle cx="346.6" cy="41.2" r="1.35"/><circle cx="348" cy="82.9" r="1.35"/><circle cx="348.7" cy="43.7" r="1.35"/><circle cx="348.3" cy="63.7" r="1.35"/><circle cx="348" cy="58.7" r="1.35"/><circle cx="347.8" cy="78" r="1.35"/><circle cx="347.9" cy="97.1" r="1.35"/><circle cx="346.4" cy="45.9" r="1.35"/><circle cx="346.2" cy="76.2" r="1.35"/><circle cx="346.6" cy="75.1" r="1.35"/><circle cx="348.9" cy="76.1" r="1.35"/><circle cx="349.5" cy="46.5" r="1.35"/><circle cx="346.6" cy="65.1" r="1.35"/><circle cx="348.6" cy="51.9" r="1.35"/><circle cx="348.2" cy="81.3" r="1.35"/><circle cx="347.6" cy="93.1" r="1.35"/><circle cx="347.7" cy="45.8" r="1.35"/><circle cx="347.5" cy="41.5" r="1.35"/><circle cx="348.7" cy="85.9" r="1.35"/><circle cx="347.6" cy="76.5" r="1.35"/><circle cx="347.2" cy="46" r="1.35"/><circle cx="347.3" cy="55.5" r="1.35"/><circle cx="347.6" cy="65.9" r="1.35"/><circle cx="346.5" cy="95.5" r="1.35"/><circle cx="347.3" cy="58.8" r="1.35"/><circle cx="347.3" cy="83.7" r="1.35"/><circle cx="348.1" cy="60.8" r="1.35"/><circle cx="347.8" cy="64.1" r="1.35"/><circle cx="348.2" cy="89.9" r="1.35"/><circle cx="346.2" cy="67.2" r="1.35"/><circle cx="348.2" cy="74.1" r="1.35"/><circle cx="347.6" cy="82.9" r="1.35"/><circle cx="348.5" cy="43.2" r="1.35"/><circle cx="347" cy="56" r="1.35"/><circle cx="347.8" cy="105.2" r="1.35"/><circle cx="347.4" cy="106.3" r="1.35"/><circle cx="347.5" cy="107" r="1.35"/><circle cx="348.3" cy="118.2" r="1.35"/><circle cx="349.1" cy="123.5" r="1.35"/><circle cx="348" cy="108.3" r="1.35"/><circle cx="348.1" cy="113.5" r="1.35"/><circle cx="348.5" cy="122.8" r="1.35"/><circle cx="346.3" cy="100.5" r="1.35"/><circle cx="348.4" cy="111.3" r="1.35"/><circle cx="358.7" cy="36.1" r="1.35"/><circle cx="359.8" cy="35.6" r="1.35"/><circle cx="359.8" cy="48.8" r="1.35"/><circle cx="358.8" cy="65.3" r="1.35"/><circle cx="358.2" cy="51.7" r="1.35"/><circle cx="358.6" cy="82.3" r="1.35"/><circle cx="360.6" cy="83.7" r="1.35"/><circle cx="357.1" cy="97.8" r="1.35"/><circle cx="360.4" cy="77.4" r="1.35"/><circle cx="358.6" cy="71.8" r="1.35"/><circle cx="358.8" cy="68.2" r="1.35"/><circle cx="360.6" cy="88.6" r="1.35"/><circle cx="356.6" cy="53" r="1.35"/><circle cx="359.7" cy="40.4" r="1.35"/><circle cx="358.5" cy="50.9" r="1.35"/><circle cx="360" cy="83.9" r="1.35"/><circle cx="358.2" cy="79" r="1.35"/><circle cx="360.6" cy="56.5" r="1.35"/><circle cx="358.9" cy="85.8" r="1.35"/><circle cx="357.6" cy="70.6" r="1.35"/><circle cx="358.3" cy="95" r="1.35"/><circle cx="359" cy="90.9" r="1.35"/><circle cx="357.8" cy="48.9" r="1.35"/><circle cx="358.1" cy="40.9" r="1.35"/><circle cx="359.2" cy="62.9" r="1.35"/><circle cx="360.6" cy="88.7" r="1.35"/><circle cx="358.6" cy="67.7" r="1.35"/><circle cx="359.2" cy="85.9" r="1.35"/><circle cx="358.8" cy="56.2" r="1.35"/><circle cx="359.3" cy="73.8" r="1.35"/><circle cx="359.1" cy="45.8" r="1.35"/><circle cx="357.8" cy="84.2" r="1.35"/><circle cx="359.3" cy="63.2" r="1.35"/><circle cx="359.2" cy="84.5" r="1.35"/><circle cx="358.5" cy="42.9" r="1.35"/><circle cx="359.5" cy="48.7" r="1.35"/><circle cx="358" cy="88.5" r="1.35"/><circle cx="358.9" cy="92.7" r="1.35"/><circle cx="358.3" cy="97.5" r="1.35"/><circle cx="357.6" cy="82.7" r="1.35"/><circle cx="359.8" cy="73.1" r="1.35"/><circle cx="358" cy="88.6" r="1.35"/><circle cx="359.1" cy="86.5" r="1.35"/><circle cx="358.9" cy="73.3" r="1.35"/><circle cx="358.5" cy="81.8" r="1.35"/><circle cx="358.6" cy="93.4" r="1.35"/><circle cx="358.7" cy="86.4" r="1.35"/><circle cx="358.4" cy="65.2" r="1.35"/><circle cx="357.8" cy="88.4" r="1.35"/><circle cx="358.3" cy="112.2" r="1.35"/><circle cx="357.3" cy="125.1" r="1.35"/><circle cx="357.4" cy="105.1" r="1.35"/><circle cx="357.3" cy="110.7" r="1.35"/><circle cx="358.3" cy="119.9" r="1.35"/><circle cx="359.5" cy="126.1" r="1.35"/><circle cx="360" cy="125.7" r="1.35"/><circle cx="357.7" cy="119.3" r="1.35"/><circle cx="358.5" cy="110.7" r="1.35"/><circle cx="358.2" cy="112.9" r="1.35"/><circle cx="370.2" cy="35.7" r="1.35"/><circle cx="369" cy="35.2" r="1.35"/><circle cx="368.4" cy="77.3" r="1.35"/><circle cx="371.3" cy="64.7" r="1.35"/><circle cx="369.7" cy="80.7" r="1.35"/><circle cx="369.7" cy="75.9" r="1.35"/><circle cx="368.5" cy="63.5" r="1.35"/><circle cx="369.5" cy="94.2" r="1.35"/><circle cx="370.1" cy="87.2" r="1.35"/><circle cx="369.7" cy="57.5" r="1.35"/><circle cx="369.1" cy="56.4" r="1.35"/><circle cx="370.3" cy="85.1" r="1.35"/><circle cx="370.4" cy="82.3" r="1.35"/><circle cx="370.1" cy="59.3" r="1.35"/><circle cx="369.4" cy="76.6" r="1.35"/><circle cx="368.7" cy="44.3" r="1.35"/><circle cx="369.1" cy="75.9" r="1.35"/><circle cx="370.5" cy="66.8" r="1.35"/><circle cx="370.5" cy="91.6" r="1.35"/><circle cx="369.7" cy="54.8" r="1.35"/><circle cx="369.8" cy="52.4" r="1.35"/><circle cx="370.6" cy="44.3" r="1.35"/><circle cx="370.6" cy="92.7" r="1.35"/><circle cx="370" cy="85.8" r="1.35"/><circle cx="368" cy="90.6" r="1.35"/><circle cx="368.6" cy="54.6" r="1.35"/><circle cx="367.8" cy="96.4" r="1.35"/><circle cx="371.1" cy="77.7" r="1.35"/><circle cx="369" cy="43.6" r="1.35"/><circle cx="368.9" cy="58.4" r="1.35"/><circle cx="369.6" cy="78.6" r="1.35"/><circle cx="370.7" cy="77" r="1.35"/><circle cx="369.5" cy="50.8" r="1.35"/><circle cx="369.5" cy="44.2" r="1.35"/><circle cx="368.2" cy="67" r="1.35"/><circle cx="370.9" cy="87.6" r="1.35"/><circle cx="369.8" cy="87.5" r="1.35"/><circle cx="370.2" cy="56.2" r="1.35"/><circle cx="369.4" cy="78.6" r="1.35"/><circle cx="368.4" cy="39.8" r="1.35"/><circle cx="367.9" cy="61.3" r="1.35"/><circle cx="371.4" cy="55.3" r="1.35"/><circle cx="370.6" cy="81.2" r="1.35"/><circle cx="369.5" cy="68" r="1.35"/><circle cx="368.9" cy="55" r="1.35"/><circle cx="368.9" cy="56.1" r="1.35"/><circle cx="369.7" cy="43.4" r="1.35"/><circle cx="370.8" cy="45.3" r="1.35"/><circle cx="371" cy="117.7" r="1.35"/><circle cx="369.4" cy="119.6" r="1.35"/><circle cx="369.8" cy="100.5" r="1.35"/><circle cx="370.5" cy="113.7" r="1.35"/><circle cx="369.9" cy="103.2" r="1.35"/><circle cx="369.6" cy="109.1" r="1.35"/><circle cx="368.9" cy="102" r="1.35"/><circle cx="369.6" cy="103.2" r="1.35"/><circle cx="371.5" cy="124.1" r="1.35"/><circle cx="368.7" cy="103.6" r="1.35"/><circle cx="380.5" cy="31.8" r="1.35"/><circle cx="380.3" cy="35.5" r="1.35"/><circle cx="382.3" cy="36.9" r="1.35"/><circle cx="380" cy="33" r="1.35"/><circle cx="382.1" cy="98.2" r="1.35"/><circle cx="379.7" cy="85.3" r="1.35"/><circle cx="380.7" cy="64.2" r="1.35"/><circle cx="379.1" cy="73.5" r="1.35"/><circle cx="381.4" cy="39.6" r="1.35"/><circle cx="380" cy="65.7" r="1.35"/><circle cx="381.4" cy="67.9" r="1.35"/><circle cx="379.5" cy="95.9" r="1.35"/><circle cx="380.5" cy="81.5" r="1.35"/><circle cx="379.8" cy="91.9" r="1.35"/><circle cx="382.4" cy="64.8" r="1.35"/><circle cx="380.5" cy="90.6" r="1.35"/><circle cx="381.2" cy="56.8" r="1.35"/><circle cx="380.5" cy="51.5" r="1.35"/><circle cx="379.6" cy="78.3" r="1.35"/><circle cx="379.2" cy="94.4" r="1.35"/><circle cx="381" cy="62.9" r="1.35"/><circle cx="380.9" cy="87.2" r="1.35"/><circle cx="380.2" cy="92.1" r="1.35"/><circle cx="378.4" cy="70.9" r="1.35"/><circle cx="380.3" cy="70.3" r="1.35"/><circle cx="378.9" cy="80.1" r="1.35"/><circle cx="381.4" cy="47.7" r="1.35"/><circle cx="379.2" cy="39.9" r="1.35"/><circle cx="380" cy="49.8" r="1.35"/><circle cx="378.9" cy="90.8" r="1.35"/><circle cx="380.5" cy="47.6" r="1.35"/><circle cx="379.9" cy="78.8" r="1.35"/><circle cx="380.1" cy="94.3" r="1.35"/><circle cx="380.1" cy="51.4" r="1.35"/><circle cx="381.5" cy="45.5" r="1.35"/><circle cx="378.7" cy="81.5" r="1.35"/><circle cx="378.6" cy="65.5" r="1.35"/><circle cx="379.9" cy="63.5" r="1.35"/><circle cx="380.6" cy="57.9" r="1.35"/><circle cx="382.1" cy="94.5" r="1.35"/><circle cx="382.2" cy="39.2" r="1.35"/><circle cx="380.8" cy="82.9" r="1.35"/><circle cx="381.1" cy="74.6" r="1.35"/><circle cx="380.2" cy="63.7" r="1.35"/><circle cx="381.9" cy="68.6" r="1.35"/><circle cx="381.1" cy="87.7" r="1.35"/><circle cx="380.9" cy="52.3" r="1.35"/><circle cx="380.5" cy="100.6" r="1.35"/><circle cx="381.3" cy="110.5" r="1.35"/><circle cx="380.6" cy="123" r="1.35"/><circle cx="380.8" cy="120.1" r="1.35"/><circle cx="379.9" cy="109.7" r="1.35"/><circle cx="380.6" cy="101.9" r="1.35"/><circle cx="379.2" cy="112.7" r="1.35"/><circle cx="379.6" cy="115.1" r="1.35"/><circle cx="380.9" cy="118.7" r="1.35"/><circle cx="389.8" cy="35.8" r="1.35"/><circle cx="391.2" cy="32.4" r="1.35"/><circle cx="391.8" cy="37.7" r="1.35"/><circle cx="391.9" cy="33.8" r="1.35"/><circle cx="392.6" cy="62.3" r="1.35"/><circle cx="391.1" cy="87.2" r="1.35"/><circle cx="389.4" cy="71.1" r="1.35"/><circle cx="391.3" cy="80" r="1.35"/><circle cx="390.9" cy="49.8" r="1.35"/><circle cx="390.3" cy="75.5" r="1.35"/><circle cx="390.2" cy="89.1" r="1.35"/><circle cx="391.9" cy="51.6" r="1.35"/><circle cx="390.9" cy="101.5" r="1.35"/><circle cx="391.8" cy="70.4" r="1.35"/><circle cx="389.4" cy="89.7" r="1.35"/><circle cx="392" cy="94.7" r="1.35"/><circle cx="390.9" cy="62.6" r="1.35"/><circle cx="391.4" cy="43.5" r="1.35"/><circle cx="390.6" cy="69.6" r="1.35"/><circle cx="391.9" cy="102.6" r="1.35"/><circle cx="390.9" cy="49.8" r="1.35"/><circle cx="391.3" cy="82.9" r="1.35"/><circle cx="390.5" cy="70.6" r="1.35"/><circle cx="391.3" cy="65" r="1.35"/><circle cx="390.9" cy="41.2" r="1.35"/><circle cx="390.3" cy="70.7" r="1.35"/><circle cx="391.4" cy="68.6" r="1.35"/><circle cx="392.5" cy="88.2" r="1.35"/><circle cx="392.7" cy="78.8" r="1.35"/><circle cx="391.1" cy="71.5" r="1.35"/><circle cx="392.4" cy="51" r="1.35"/><circle cx="392.3" cy="63.1" r="1.35"/><circle cx="390.8" cy="95" r="1.35"/><circle cx="391" cy="74.1" r="1.35"/><circle cx="391.5" cy="68.6" r="1.35"/><circle cx="391.3" cy="59.3" r="1.35"/><circle cx="390.3" cy="77" r="1.35"/><circle cx="390.8" cy="100" r="1.35"/><circle cx="390.6" cy="87.5" r="1.35"/><circle cx="391.7" cy="74.6" r="1.35"/><circle cx="391.1" cy="52.9" r="1.35"/><circle cx="393.3" cy="42.9" r="1.35"/><circle cx="389.6" cy="94.4" r="1.35"/><circle cx="390.9" cy="118.8" r="1.35"/><circle cx="390.7" cy="108" r="1.35"/><circle cx="391.3" cy="114.8" r="1.35"/><circle cx="391.9" cy="127.9" r="1.35"/><circle cx="390.4" cy="123.4" r="1.35"/><circle cx="390.3" cy="114.2" r="1.35"/><circle cx="391.1" cy="126" r="1.35"/><circle cx="403.1" cy="37.3" r="1.35"/><circle cx="403.9" cy="34.6" r="1.35"/><circle cx="401.1" cy="70.3" r="1.35"/><circle cx="402.9" cy="77.9" r="1.35"/><circle cx="403.9" cy="68.8" r="1.35"/><circle cx="401.4" cy="63.2" r="1.35"/><circle cx="402" cy="45.7" r="1.35"/><circle cx="401.1" cy="70.6" r="1.35"/><circle cx="402.1" cy="50" r="1.35"/><circle cx="403.5" cy="57.9" r="1.35"/><circle cx="402.3" cy="73.9" r="1.35"/><circle cx="403" cy="91.8" r="1.35"/><circle cx="401.5" cy="85.7" r="1.35"/><circle cx="401.3" cy="63.5" r="1.35"/><circle cx="401.2" cy="52.4" r="1.35"/><circle cx="402.8" cy="85.2" r="1.35"/><circle cx="403.8" cy="43.9" r="1.35"/><circle cx="401.5" cy="94.9" r="1.35"/><circle cx="402.4" cy="77" r="1.35"/><circle cx="402.7" cy="60.8" r="1.35"/><circle cx="402.8" cy="72.2" r="1.35"/><circle cx="403.3" cy="72.2" r="1.35"/><circle cx="401.1" cy="86.6" r="1.35"/><circle cx="402.2" cy="83.2" r="1.35"/><circle cx="401.9" cy="68.2" r="1.35"/><circle cx="400.8" cy="78.4" r="1.35"/><circle cx="402.6" cy="67.2" r="1.35"/><circle cx="402.5" cy="80.9" r="1.35"/><circle cx="402.5" cy="57.4" r="1.35"/><circle cx="404.3" cy="69.5" r="1.35"/><circle cx="400.3" cy="49.2" r="1.35"/><circle cx="402.7" cy="55.1" r="1.35"/><circle cx="401.8" cy="103.9" r="1.35"/><circle cx="402.9" cy="127.2" r="1.35"/><circle cx="401.3" cy="107.3" r="1.35"/><circle cx="402.7" cy="127.8" r="1.35"/><circle cx="403.3" cy="102" r="1.35"/><circle cx="403.1" cy="115.8" r="1.35"/><circle cx="84" cy="97.9" r="1.35"/><circle cx="85.6" cy="103.3" r="1.35"/><circle cx="84.9" cy="105.3" r="1.35"/><circle cx="84.6" cy="97" r="1.35"/><circle cx="84.9" cy="96.9" r="1.35"/><circle cx="84.6" cy="99.1" r="1.35"/><circle cx="84.2" cy="98.4" r="1.35"/><circle cx="84.8" cy="98.3" r="1.35"/><circle cx="84.8" cy="99.8" r="1.35"/><circle cx="85.1" cy="99.7" r="1.35"/><circle cx="84.5" cy="94.9" r="1.35"/><circle cx="84" cy="104.7" r="1.35"/><circle cx="84.8" cy="97.6" r="1.35"/><circle cx="84.8" cy="97.6" r="1.35"/><circle cx="84.8" cy="96.1" r="1.35"/><circle cx="85.5" cy="99.4" r="1.35"/><circle cx="84.3" cy="97.8" r="1.35"/><circle cx="84.4" cy="93.8" r="1.35"/><circle cx="83.7" cy="103.5" r="1.35"/><circle cx="84.3" cy="104.7" r="1.35"/><circle cx="85.7" cy="66.6" r="1.35"/><circle cx="85.7" cy="76.3" r="1.35"/><circle cx="85.1" cy="117.8" r="1.35"/><circle cx="84.9" cy="121" r="1.35"/><circle cx="85.9" cy="124" r="1.35"/><circle cx="85.1" cy="132.5" r="1.35"/><circle cx="96.5" cy="57.8" r="1.35"/><circle cx="96.9" cy="66.6" r="1.35"/><circle cx="95.9" cy="69.4" r="1.35"/><circle cx="107.4" cy="65.2" r="1.35"/><circle cx="119" cy="58.2" r="1.35"/><circle cx="117.5" cy="62" r="1.35"/><circle cx="118" cy="68.3" r="1.35"/><circle cx="128" cy="59.5" r="1.35"/><circle cx="129" cy="63" r="1.35"/><circle cx="138.9" cy="53" r="1.35"/><circle cx="140" cy="58.9" r="1.35"/><circle cx="139.5" cy="63" r="1.35"/><circle cx="216.7" cy="31.6" r="1.35"/><circle cx="259" cy="27.7" r="1.35"/><circle cx="259.9" cy="31.8" r="1.35"/><circle cx="292.6" cy="30.8" r="1.35"/><circle cx="304.1" cy="30.8" r="1.35"/><circle cx="379.3" cy="33" r="1.35"/><circle cx="402.5" cy="29" r="1.35"/><circle cx="118.8" cy="205.7" r="1.35"/><circle cx="162.5" cy="183" r="1.35"/><circle cx="173.6" cy="184.1" r="1.35"/><circle cx="173.6" cy="204.3" r="1.35"/><circle cx="183" cy="174.7" r="1.35"/><circle cx="183" cy="180" r="1.35"/><circle cx="204.7" cy="165.2" r="1.35"/><circle cx="205.1" cy="189.4" r="1.35"/><circle cx="183.6" cy="215.1" r="1.35"/><circle cx="194.4" cy="236.7" r="1.35"/><circle cx="171.7" cy="248.9" r="1.35"/><circle cx="204.9" cy="264.6" r="1.35"/><circle cx="204.6" cy="165" r="1.35"/><circle cx="205.9" cy="189.2" r="1.35"/><circle cx="216.4" cy="155" r="1.35"/><circle cx="216.4" cy="189.6" r="1.35"/><circle cx="227.4" cy="148.7" r="1.35"/><circle cx="227.4" cy="156" r="1.35"/><circle cx="227.4" cy="160.2" r="1.35"/><circle cx="227.4" cy="163.4" r="1.35"/><circle cx="227.4" cy="178.1" r="1.35"/><circle cx="226.9" cy="181.2" r="1.35"/><circle cx="228.4" cy="192.8" r="1.35"/><circle cx="237.4" cy="145.5" r="1.35"/><circle cx="238.9" cy="149.7" r="1.35"/><circle cx="237.9" cy="151.8" r="1.35"/><circle cx="237.9" cy="163.4" r="1.35"/><circle cx="237.4" cy="168.2" r="1.35"/><circle cx="238.9" cy="178.1" r="1.35"/><circle cx="248.7" cy="153.5" r="1.35"/><circle cx="248.7" cy="160.2" r="1.35"/><circle cx="249.2" cy="163.4" r="1.35"/><circle cx="249.7" cy="173.9" r="1.35"/><circle cx="249.8" cy="186.5" r="1.35"/><circle cx="261.7" cy="141.3" r="1.35"/><circle cx="261" cy="147.6" r="1.35"/><circle cx="261.7" cy="154.3" r="1.35"/><circle cx="260.6" cy="173.2" r="1.35"/><circle cx="227.7" cy="208.5" r="1.35"/><circle cx="259.4" cy="212.9" r="1.35"/><circle cx="270.1" cy="138.2" r="1.35"/><circle cx="272.2" cy="139.2" r="1.35"/><circle cx="270.1" cy="143.4" r="1.35"/><circle cx="272.2" cy="152.2" r="1.35"/><circle cx="271" cy="155.6" r="1.35"/><circle cx="271.6" cy="172.8" r="1.35"/><circle cx="270.5" cy="186.5" r="1.35"/><circle cx="270.1" cy="188.3" r="1.35"/><circle cx="282.7" cy="137.5" r="1.35"/><circle cx="281" cy="148.7" r="1.35"/><circle cx="291.5" cy="136" r="1.35"/><circle cx="292.6" cy="138.2" r="1.35"/><circle cx="294" cy="148.7" r="1.35"/><circle cx="293.6" cy="163.4" r="1.35"/><circle cx="291.9" cy="200.2" r="1.35"/><circle cx="303.1" cy="137.1" r="1.35"/><circle cx="303.1" cy="150.8" r="1.35"/><circle cx="303.1" cy="159.2" r="1.35"/><circle cx="304.5" cy="160.6" r="1.35"/><circle cx="314.2" cy="143.8" r="1.35"/><circle cx="315" cy="149.3" r="1.35"/><circle cx="313.6" cy="161.9" r="1.35"/><circle cx="325" cy="217.8" r="1.35"/><circle cx="324.6" cy="138.2" r="1.35"/><circle cx="324.6" cy="143.8" r="1.35"/><circle cx="326.9" cy="152.9" r="1.35"/><circle cx="325.9" cy="160.8" r="1.35"/><circle cx="326.7" cy="180.2" r="1.35"/><circle cx="336.8" cy="160.2" r="1.35"/><circle cx="335.8" cy="164" r="1.35"/><circle cx="337.9" cy="180.8" r="1.35"/><circle cx="346.9" cy="137.1" r="1.35"/><circle cx="347.3" cy="138.4" r="1.35"/><circle cx="346.9" cy="143.4" r="1.35"/><circle cx="347.5" cy="144.6" r="1.35"/><circle cx="359.5" cy="138.8" r="1.35"/><circle cx="359.5" cy="142.4" r="1.35"/><circle cx="358.2" cy="146.6" r="1.35"/><circle cx="359.5" cy="147.8" r="1.35"/><circle cx="357.4" cy="175.5" r="1.35"/><circle cx="369.4" cy="136.7" r="1.35"/><circle cx="369.8" cy="138.8" r="1.35"/><circle cx="370" cy="147.2" r="1.35"/><circle cx="368.7" cy="152.9" r="1.35"/><circle cx="369.8" cy="196.6" r="1.35"/><circle cx="379.9" cy="144.5" r="1.35"/><circle cx="381.3" cy="145.9" r="1.35"/><circle cx="380.5" cy="154.5" r="1.35"/><circle cx="379.5" cy="162.9" r="1.35"/><circle cx="380.5" cy="166.9" r="1.35"/><circle cx="379.8" cy="154.7" r="1.35"/><circle cx="379.8" cy="163.6" r="1.35"/><circle cx="391.3" cy="130.3" r="1.35"/><circle cx="391.3" cy="140" r="1.35"/><circle cx="390.8" cy="143.5" r="1.35"/><circle cx="390.2" cy="149.4" r="1.35"/><circle cx="390.3" cy="151.2" r="1.35"/><circle cx="390.3" cy="159.7" r="1.35"/><circle cx="392.2" cy="179.2" r="1.35"/><circle cx="402" cy="132.3" r="1.35"/><circle cx="402" cy="156.2" r="1.35"/><circle cx="402" cy="184.2" r="1.35"/><circle cx="368.9" cy="153.1" r="1.35"/></g>
<use href="#med" stroke-opacity="0.8"/>
<line x1="57" y1="20.2" x2="57" y2="271" stroke="#757575" stroke-width="2"/>
<g stroke="#333" stroke-width="1.5"><line x1="52.8" y1="26.8" x2="57" y2="26.8"/><line x1="52.8" y1="54.3" x2="57" y2="54.3"/><line x1="52.8" y1="81.8" x2="57" y2="81.8"/><line x1="52.8" y1="109.3" x2="57" y2="109.3"/><line x1="52.8" y1="136.8" x2="57" y2="136.8"/><line x1="52.8" y1="164.3" x2="57" y2="164.3"/><line x1="52.8" y1="193.4" x2="57" y2="193.4"/><line x1="52.8" y1="220.9" x2="57" y2="220.9"/><line x1="52.8" y1="248.4" x2="57" y2="248.4"/></g>
<g font-size="13" fill="#000" stroke="#000" stroke-width="0.3" text-anchor="end"><text x="43.3" y="29.5" textLength="20.4" lengthAdjust="spacingAndGlyphs">800</text><text x="43.3" y="56.8" textLength="20.4" lengthAdjust="spacingAndGlyphs">400</text><text x="43.3" y="84.5" textLength="20.4" lengthAdjust="spacingAndGlyphs">200</text><text x="43.3" y="112.6" textLength="20.4" lengthAdjust="spacingAndGlyphs">100</text><text x="43.3" y="139.8" textLength="13.6" lengthAdjust="spacingAndGlyphs">50</text><text x="43.3" y="167.7" textLength="13.6" lengthAdjust="spacingAndGlyphs">25</text><text x="43.3" y="196.4" textLength="13.6" lengthAdjust="spacingAndGlyphs">12</text><text x="43.3" y="224.8" textLength="6.8" lengthAdjust="spacingAndGlyphs">6</text><text x="43.3" y="252" textLength="6.8" lengthAdjust="spacingAndGlyphs">3</text></g>
<g font-size="13" fill="#000" stroke="#000" stroke-width="0.3" text-anchor="middle"><text x="59.5" y="288.6" textLength="6.8" lengthAdjust="spacingAndGlyphs">0</text><text x="140" y="288.6" textLength="6.8" lengthAdjust="spacingAndGlyphs">7</text><text x="216.8" y="288.6" textLength="13.6" lengthAdjust="spacingAndGlyphs">14</text><text x="293" y="288.6" textLength="13.6" lengthAdjust="spacingAndGlyphs">21</text><text x="369.3" y="288.6" textLength="13.6" lengthAdjust="spacingAndGlyphs">28</text></g>
<text x="233" y="305.2" font-size="12.7" fill="#000" stroke="#000" stroke-width="0.3" text-anchor="middle">Age (days)</text>
<text transform="translate(12.7,145) rotate(-90)" font-size="13" fill="#000" stroke="#000" stroke-width="0.3" text-anchor="middle">Platelet count</text>
</svg>
</body></html>
